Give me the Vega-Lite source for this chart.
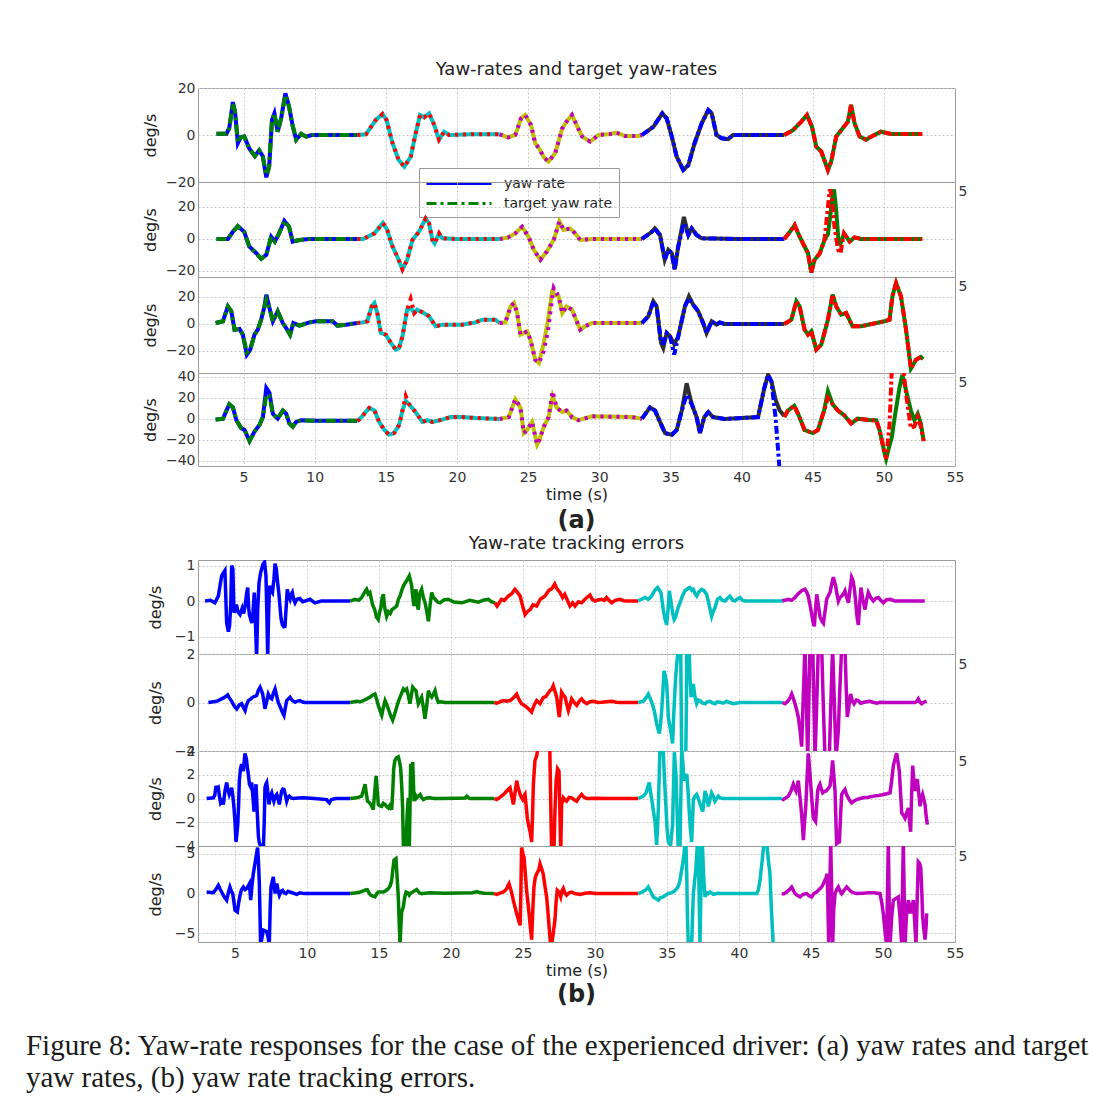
{
"$schema":"https://vega.github.io/schema/vega-lite/v6.json",
"background":"white",
"padding":{"left":25,"right":5,"top":60,"bottom":5},
"title":{"text":["Figure 8: Yaw-rate responses for the case of the experienced driver: (a) yaw rates and target","yaw rates, (b) yaw rate tracking errors."],"orient":"bottom","anchor":"start","frame":"bounds","dx":-116,"offset":24,"font":"Liberation Serif","fontSize":29,"fontWeight":"normal","color":"#1a1a1a","lineHeight":32},
"spacing":0,
"datasets":{
"a1":[
{"s":1,"t":3.1,"y":0.5,"g":0.5},{"s":1,"t":3.8,"y":0.5,"g":0.5},{"s":1,"t":4,"y":3,"g":3},{"s":1,"t":4.25,"y":14,"g":13.5},{"s":1,"t":4.4,"y":10,"g":10},{"s":1,"t":4.6,"y":-3.5,"g":-3},{"s":1,"t":4.8,"y":-1,"g":-1},{"s":1,"t":5.05,"y":-0.7,"g":-0.7},{"s":1,"t":5.4,"y":-5.7,"g":-5.7},{"s":1,"t":5.8,"y":-9,"g":-9},{"s":1,"t":6.1,"y":-6.5,"g":-6.5},{"s":1,"t":6.35,"y":-9,"g":-9},{"s":1,"t":6.6,"y":-18,"g":-17},{"s":1,"t":6.8,"y":-13.5,"g":-13.5},{"s":1,"t":7,"y":6.4,"g":6.4},{"s":1,"t":7.17,"y":9.2,"g":9.2},{"s":1,"t":7.4,"y":1.4,"g":1.4},{"s":1,"t":7.64,"y":7,"g":7},{"s":1,"t":7.94,"y":17.7,"g":17},{"s":1,"t":8.2,"y":12,"g":12},{"s":1,"t":8.45,"y":4,"g":4},{"s":1,"t":8.7,"y":-2,"g":-2},{"s":1,"t":9.05,"y":0.5,"g":0.5},{"s":1,"t":9.4,"y":-0.7,"g":-0.7},{"s":1,"t":9.8,"y":0,"g":0},{"s":1,"t":11,"y":0,"g":0},{"s":1,"t":13,"y":0,"g":0},
{"s":2,"t":13,"y":0,"g":0},{"s":2,"t":13.6,"y":0.3,"g":0.3},{"s":2,"t":14.3,"y":6.4,"g":6.4},{"s":2,"t":14.77,"y":8.9,"g":8.9},{"s":2,"t":15.05,"y":6.4,"g":6.4},{"s":2,"t":15.47,"y":-3.5,"g":-3.5},{"s":2,"t":15.9,"y":-10.6,"g":-10.6},{"s":2,"t":16.3,"y":-13.5,"g":-13.5},{"s":2,"t":16.75,"y":-9.2,"g":-9.2},{"s":2,"t":17.1,"y":0.7,"g":0.7},{"s":2,"t":17.4,"y":8.5,"g":8.5},{"s":2,"t":17.7,"y":7.5,"g":7.5},{"s":2,"t":18.04,"y":9.2,"g":9.2},{"s":2,"t":18.4,"y":4.3,"g":4.3},{"s":2,"t":18.74,"y":-2,"g":-2},{"s":2,"t":19.1,"y":1.4,"g":1.4},{"s":2,"t":19.44,"y":0,"g":0},{"s":2,"t":21,"y":0.3,"g":0.3},{"s":2,"t":23,"y":0.3,"g":0.3},
{"s":3,"t":23,"y":0.3,"g":0.3},{"s":3,"t":23.6,"y":-1,"g":-1},{"s":3,"t":24.1,"y":0,"g":0},{"s":3,"t":24.5,"y":7,"g":7},{"s":3,"t":24.8,"y":8.5,"g":8.5},{"s":3,"t":25.2,"y":4.3,"g":4.3},{"s":3,"t":25.5,"y":-3.5,"g":-3.5},{"s":3,"t":25.8,"y":-6,"g":-6},{"s":3,"t":26.1,"y":-9.5,"g":-9.5},{"s":3,"t":26.44,"y":-11.3,"g":-11.3},{"s":3,"t":26.9,"y":-7.8,"g":-7.8},{"s":3,"t":27.4,"y":2.8,"g":2.8},{"s":3,"t":27.7,"y":5.7,"g":5.7},{"s":3,"t":28.08,"y":8.5,"g":8.5},{"s":3,"t":28.4,"y":4.3,"g":4.3},{"s":3,"t":28.8,"y":-0.7,"g":-0.7},{"s":3,"t":29.36,"y":-2.8,"g":-2.8},{"s":3,"t":29.95,"y":0,"g":0},{"s":3,"t":30.76,"y":0.4,"g":0.4},{"s":3,"t":31.2,"y":1,"g":1},{"s":3,"t":31.8,"y":-0.4,"g":-0.4},{"s":3,"t":32.75,"y":-0.4,"g":-0.4},{"s":3,"t":33,"y":0,"g":0},
{"s":4,"t":33,"y":0,"g":0},{"s":4,"t":33.8,"y":3.5,"g":3.5},{"s":4,"t":34.43,"y":9.2,"g":9.2},{"s":4,"t":34.74,"y":7,"g":7},{"s":4,"t":35.1,"y":-0.7,"g":-0.7},{"s":4,"t":35.44,"y":-9.2,"g":-9.2},{"s":4,"t":35.9,"y":-14.9,"g":-14.9},{"s":4,"t":36.26,"y":-12.8,"g":-12.8},{"s":4,"t":36.7,"y":-3.5,"g":-3.5},{"s":4,"t":37.2,"y":5,"g":5},{"s":4,"t":37.66,"y":10.6,"g":10.6},{"s":4,"t":37.9,"y":9.2,"g":9.2},{"s":4,"t":38.24,"y":0,"g":0},{"s":4,"t":38.6,"y":-1.4,"g":-1.4},{"s":4,"t":39.06,"y":-1.8,"g":-1.8},{"s":4,"t":39.4,"y":0,"g":0},{"s":4,"t":41,"y":0,"g":0},{"s":4,"t":43,"y":0,"g":0},
{"s":5,"t":43,"y":0,"g":0},{"s":5,"t":43.6,"y":2,"g":2},{"s":5,"t":44.2,"y":5.7,"g":5.7},{"s":5,"t":44.6,"y":8.5,"g":8.5},{"s":5,"t":44.95,"y":3.5,"g":3.5},{"s":5,"t":45.25,"y":-5,"g":-5},{"s":5,"t":45.6,"y":-7,"g":-7},{"s":5,"t":46.07,"y":-14.9,"g":-14.9},{"s":5,"t":46.3,"y":-11.3,"g":-11.3},{"s":5,"t":46.65,"y":-0.7,"g":-0.7},{"s":5,"t":47.1,"y":2.8,"g":2.8},{"s":5,"t":47.47,"y":5.7,"g":5.7},{"s":5,"t":47.7,"y":12.8,"g":12.8},{"s":5,"t":47.94,"y":5,"g":5},{"s":5,"t":48.3,"y":-0.7,"g":-0.7},{"s":5,"t":48.75,"y":-2,"g":-2},{"s":5,"t":49.1,"y":-0.7,"g":-0.7},{"s":5,"t":49.8,"y":1.4,"g":1.4},{"s":5,"t":50.5,"y":0.4,"g":0.4},{"s":5,"t":52.7,"y":0.4,"g":0.4}
],
"a2":[
{"s":1,"t":3.1,"y":0,"g":0},{"s":1,"t":3.9,"y":0,"g":0},{"s":1,"t":4.25,"y":4.5,"g":4.5},{"s":1,"t":4.6,"y":8,"g":8},{"s":1,"t":5.05,"y":4.5,"g":4.5},{"s":1,"t":5.4,"y":-4.7,"g":-4.7},{"s":1,"t":5.9,"y":-8.9,"g":-8.9},{"s":1,"t":6.24,"y":-12.4,"g":-12.4},{"s":1,"t":6.6,"y":-9.9,"g":-9.9},{"s":1,"t":6.94,"y":1.4,"g":1.4},{"s":1,"t":7.2,"y":-1.6,"g":-1.6},{"s":1,"t":7.5,"y":3.5,"g":3.5},{"s":1,"t":7.87,"y":11.3,"g":11.3},{"s":1,"t":8.2,"y":7.6,"g":7.6},{"s":1,"t":8.45,"y":-1.6,"g":-1.6},{"s":1,"t":8.93,"y":-0.6,"g":-0.6},{"s":1,"t":9.6,"y":0,"g":0},{"s":1,"t":13,"y":0,"g":0},
{"s":2,"t":13,"y":0,"g":0},{"s":2,"t":13.4,"y":0,"g":0},{"s":2,"t":14.2,"y":3.5,"g":3.5},{"s":2,"t":14.8,"y":10,"g":10},{"s":2,"t":15.1,"y":5.6,"g":5.6},{"s":2,"t":15.47,"y":-4.7,"g":-4.7},{"s":2,"t":15.8,"y":-10.9,"g":-10.9},{"s":2,"t":16.17,"y":-19,"g":-19},{"s":2,"t":16.5,"y":-13,"g":-13},{"s":2,"t":16.87,"y":-0.6,"g":-0.6},{"s":2,"t":17.33,"y":4.5,"g":4.5},{"s":2,"t":17.8,"y":12.8,"g":12.8},{"s":2,"t":18.04,"y":9.7,"g":9.7},{"s":2,"t":18.27,"y":-0.6,"g":-0.6},{"s":2,"t":18.43,"y":-2.7,"g":-2.7},{"s":2,"t":18.74,"y":3.5,"g":3.5},{"s":2,"t":18.97,"y":0.4,"g":0.4},{"s":2,"t":20,"y":0,"g":0},{"s":2,"t":23,"y":0,"g":0},
{"s":3,"t":23,"y":0,"g":0},{"s":3,"t":23.6,"y":1,"g":1},{"s":3,"t":24.1,"y":3.5,"g":3.5},{"s":3,"t":24.57,"y":7.6,"g":7.6},{"s":3,"t":25.03,"y":1.4,"g":1.4},{"s":3,"t":25.4,"y":-6.8,"g":-6.8},{"s":3,"t":25.86,"y":-13,"g":-13},{"s":3,"t":26.3,"y":-8,"g":-8},{"s":3,"t":26.8,"y":-0.6,"g":-0.6},{"s":3,"t":27.2,"y":11,"g":11},{"s":3,"t":27.5,"y":5.6,"g":5.6},{"s":3,"t":27.96,"y":6.6,"g":6.6},{"s":3,"t":28.3,"y":3.5,"g":3.5},{"s":3,"t":28.66,"y":-0.6,"g":-0.6},{"s":3,"t":29.5,"y":0,"g":0},{"s":3,"t":33,"y":0,"g":0},
{"s":4,"t":33,"y":0,"g":0},{"s":4,"t":33.7,"y":4.5,"g":4.5},{"s":4,"t":33.9,"y":6.6,"g":6.6},{"s":4,"t":34.27,"y":2.5,"g":2.5},{"s":4,"t":34.6,"y":-13,"g":-13},{"s":4,"t":34.85,"y":-6.8,"g":-6.8},{"s":4,"t":35.1,"y":-8.9,"g":-8.9},{"s":4,"t":35.3,"y":-19,"g":-19},{"s":4,"t":35.55,"y":-4.7,"g":-4.7},{"s":4,"t":35.95,"y":13.8,"g":9.7},{"s":4,"t":36.26,"y":2.5,"g":2.5},{"s":4,"t":36.5,"y":6.6,"g":6.6},{"s":4,"t":36.84,"y":2.5,"g":2.5},{"s":4,"t":37.2,"y":0.4,"g":0.4},{"s":4,"t":39.76,"y":0,"g":0},{"s":4,"t":43,"y":0,"g":0},
{"s":5,"t":43,"y":0,"g":0},{"s":5,"t":43.4,"y":4.5,"g":4.5},{"s":5,"t":43.73,"y":8.7,"g":8.7},{"s":5,"t":44.08,"y":1.4,"g":1.4},{"s":5,"t":44.43,"y":-4.7,"g":-4.7},{"s":5,"t":44.67,"y":-8.9,"g":-8.9},{"s":5,"t":44.9,"y":-21,"g":-21},{"s":5,"t":45.13,"y":-13,"g":-13},{"s":5,"t":45.5,"y":-8.9,"g":-8.9},{"s":5,"t":45.83,"y":-0.6,"g":-0.6},{"s":5,"t":46.07,"y":3,"g":20},{"s":5,"t":46.2,"y":12,"g":31},{"s":5,"t":46.35,"y":24,"g":27},{"s":5,"t":46.5,"y":31,"g":10},{"s":5,"t":46.65,"y":18,"g":0},{"s":5,"t":46.8,"y":0,"g":-7},{"s":5,"t":46.95,"y":-3,"g":-9},{"s":5,"t":47.2,"y":3.5,"g":3.5},{"s":5,"t":47.6,"y":-1.6,"g":-1.6},{"s":5,"t":47.94,"y":1,"g":1},{"s":5,"t":48.4,"y":0,"g":0},{"s":5,"t":52.7,"y":0,"g":0}
],
"a3":[
{"s":1,"t":3.04,"y":0.7,"g":0.7},{"s":1,"t":3.55,"y":2,"g":2},{"s":1,"t":3.9,"y":13,"g":13},{"s":1,"t":4.14,"y":9.4,"g":9.4},{"s":1,"t":4.37,"y":-4.2,"g":-4.2},{"s":1,"t":4.72,"y":-3.7,"g":-3.7},{"s":1,"t":4.95,"y":-7.9,"g":-7.9},{"s":1,"t":5.23,"y":-22.7,"g":-21},{"s":1,"t":5.47,"y":-19,"g":-19},{"s":1,"t":5.77,"y":-7.9,"g":-7.9},{"s":1,"t":6,"y":-4.2,"g":-4.2},{"s":1,"t":6.24,"y":3.2,"g":3.2},{"s":1,"t":6.47,"y":13,"g":13},{"s":1,"t":6.6,"y":21.7,"g":18},{"s":1,"t":6.82,"y":11.9,"g":11.9},{"s":1,"t":7.06,"y":2,"g":2},{"s":1,"t":7.4,"y":9.4,"g":9.4},{"s":1,"t":7.76,"y":0.7,"g":0.7},{"s":1,"t":8.04,"y":-3.7,"g":-3.7},{"s":1,"t":8.27,"y":-7.9,"g":-7.9},{"s":1,"t":8.5,"y":0.7,"g":0.7},{"s":1,"t":8.93,"y":-1.2,"g":-1.2},{"s":1,"t":9.63,"y":1.2,"g":1.2},{"s":1,"t":10.1,"y":2,"g":2},{"s":1,"t":11.26,"y":2,"g":2},{"s":1,"t":11.6,"y":-1.2,"g":-1.2},{"s":1,"t":12.2,"y":-0.5,"g":-0.5},{"s":1,"t":13,"y":0.7,"g":0.7},
{"s":2,"t":13,"y":0.7,"g":0.7},{"s":2,"t":13.37,"y":1.2,"g":1.2},{"s":2,"t":13.7,"y":2,"g":2},{"s":2,"t":14,"y":13,"g":13},{"s":2,"t":14.2,"y":15.5,"g":15.5},{"s":2,"t":14.4,"y":8.1,"g":8.1},{"s":2,"t":14.65,"y":-6.7,"g":-6.7},{"s":2,"t":15,"y":-7.9,"g":-7.9},{"s":2,"t":15.35,"y":-14,"g":-14},{"s":2,"t":15.7,"y":-19,"g":-19},{"s":2,"t":15.93,"y":-17.8,"g":-17.8},{"s":2,"t":16.17,"y":-9.1,"g":-9.1},{"s":2,"t":16.5,"y":10.6,"g":10.6},{"s":2,"t":16.75,"y":11.9,"g":18.5},{"s":2,"t":17,"y":8.1,"g":8.1},{"s":2,"t":17.2,"y":10.6,"g":10.6},{"s":2,"t":17.57,"y":8.6,"g":8.6},{"s":2,"t":18.04,"y":5.7,"g":5.7},{"s":2,"t":18.5,"y":-1.7,"g":-1.7},{"s":2,"t":18.97,"y":-0.5,"g":-0.5},{"s":2,"t":20.37,"y":-0.5,"g":-0.5},{"s":2,"t":21.3,"y":1.2,"g":1.2},{"s":2,"t":21.78,"y":3.2,"g":3.2},{"s":2,"t":22.7,"y":3.2,"g":3.2},{"s":2,"t":23,"y":0.7,"g":0.7},
{"s":3,"t":23,"y":0.7,"g":0.7},{"s":3,"t":23.4,"y":1.2,"g":1.2},{"s":3,"t":23.77,"y":13,"g":13},{"s":3,"t":24,"y":15.5,"g":15.5},{"s":3,"t":24.23,"y":8.1,"g":8.1},{"s":3,"t":24.46,"y":-7.9,"g":-7.9},{"s":3,"t":24.93,"y":-5.4,"g":-5.4},{"s":3,"t":25.16,"y":-11.6,"g":-11.6},{"s":3,"t":25.5,"y":-26.4,"g":-26.4},{"s":3,"t":25.76,"y":-28.9,"g":-28.9},{"s":3,"t":26.1,"y":-14,"g":-20},{"s":3,"t":26.4,"y":3,"g":-5},{"s":3,"t":26.7,"y":25.4,"g":20},{"s":3,"t":26.8,"y":22,"g":26.7},{"s":3,"t":27.14,"y":20.5,"g":20.5},{"s":3,"t":27.4,"y":8.1,"g":8.1},{"s":3,"t":27.7,"y":13,"g":13},{"s":3,"t":28.08,"y":10.6,"g":10.6},{"s":3,"t":28.66,"y":-4.2,"g":-4.2},{"s":3,"t":29,"y":-1.7,"g":-1.7},{"s":3,"t":29.5,"y":0.7,"g":0.7},{"s":3,"t":33,"y":0.7,"g":0.7},
{"s":4,"t":33,"y":0.7,"g":0.7},{"s":4,"t":33.45,"y":5.7,"g":5.7},{"s":4,"t":33.8,"y":16.8,"g":16.8},{"s":4,"t":34.03,"y":13,"g":13},{"s":4,"t":34.34,"y":-14,"g":-14},{"s":4,"t":34.5,"y":-17.8,"g":-14},{"s":4,"t":34.74,"y":-6.7,"g":-6.7},{"s":4,"t":34.97,"y":-9.1,"g":-9.1},{"s":4,"t":35.27,"y":-15,"g":-22.7},{"s":4,"t":35.55,"y":-9.1,"g":-9.1},{"s":4,"t":36.02,"y":13,"g":13},{"s":4,"t":36.3,"y":20.5,"g":19},{"s":4,"t":36.6,"y":14.3,"g":14.3},{"s":4,"t":36.95,"y":9.4,"g":9.4},{"s":4,"t":37.3,"y":0.7,"g":0.7},{"s":4,"t":37.54,"y":-6.7,"g":-6.7},{"s":4,"t":37.9,"y":2,"g":2},{"s":4,"t":38.24,"y":-0.5,"g":-0.5},{"s":4,"t":38.47,"y":1.2,"g":1.2},{"s":4,"t":38.8,"y":0,"g":0},{"s":4,"t":43,"y":0,"g":0},
{"s":5,"t":43,"y":0,"g":0},{"s":5,"t":43.5,"y":3.2,"g":3.2},{"s":5,"t":43.85,"y":16.8,"g":16.8},{"s":5,"t":44.08,"y":13,"g":13},{"s":5,"t":44.43,"y":-4.2,"g":-4.2},{"s":5,"t":44.67,"y":-7.9,"g":-7.9},{"s":5,"t":44.9,"y":-5.4,"g":-5.4},{"s":5,"t":45.25,"y":-19,"g":-19},{"s":5,"t":45.6,"y":-15.3,"g":-15.3},{"s":5,"t":46.07,"y":3.2,"g":3.2},{"s":5,"t":46.4,"y":21.7,"g":21.7},{"s":5,"t":46.65,"y":13,"g":13},{"s":5,"t":47,"y":6.9,"g":6.9},{"s":5,"t":47.35,"y":8.1,"g":8.1},{"s":5,"t":47.8,"y":-1.7,"g":-1.7},{"s":5,"t":48.4,"y":-1.7,"g":-1.7},{"s":5,"t":50.04,"y":2,"g":2},{"s":5,"t":50.4,"y":3.2,"g":3.2},{"s":5,"t":50.6,"y":20.5,"g":20.5},{"s":5,"t":50.86,"y":30.4,"g":30.4},{"s":5,"t":51.2,"y":20.5,"g":20.5},{"s":5,"t":51.56,"y":-4.2,"g":-4.2},{"s":5,"t":51.9,"y":-33,"g":-33},{"s":5,"t":52.26,"y":-26.4,"g":-26.4},{"s":5,"t":52.6,"y":-24.4,"g":-24.4},{"s":5,"t":52.75,"y":-26,"g":-26}
],
"a4":[
{"s":1,"t":3.04,"y":-0.6,"g":-0.6},{"s":1,"t":3.55,"y":0,"g":0},{"s":1,"t":3.8,"y":8,"g":8},{"s":1,"t":4,"y":14,"g":14},{"s":1,"t":4.25,"y":11,"g":11},{"s":1,"t":4.5,"y":-1.2,"g":-1.2},{"s":1,"t":4.84,"y":-8.9,"g":-8.9},{"s":1,"t":5.07,"y":-10.5,"g":-10.5},{"s":1,"t":5.42,"y":-21,"g":-21},{"s":1,"t":5.77,"y":-12,"g":-12},{"s":1,"t":6.12,"y":-5.8,"g":-5.8},{"s":1,"t":6.36,"y":1.8,"g":1.8},{"s":1,"t":6.6,"y":29.5,"g":23},{"s":1,"t":6.82,"y":25,"g":22},{"s":1,"t":7.06,"y":4.9,"g":4.9},{"s":1,"t":7.4,"y":0.3,"g":0.3},{"s":1,"t":7.76,"y":8,"g":8},{"s":1,"t":8,"y":4.9,"g":4.9},{"s":1,"t":8.22,"y":-4.3,"g":-4.3},{"s":1,"t":8.46,"y":-7.4,"g":-7.4},{"s":1,"t":8.7,"y":-2.8,"g":-2.8},{"s":1,"t":9.04,"y":-1.2,"g":-1.2},{"s":1,"t":10.1,"y":-1.8,"g":-1.8},{"s":1,"t":13,"y":-1.8,"g":-1.8},
{"s":2,"t":13,"y":-1.8,"g":-1.8},{"s":2,"t":13.13,"y":-0.6,"g":-0.6},{"s":2,"t":13.48,"y":4.9,"g":4.9},{"s":2,"t":13.83,"y":10.5,"g":10.5},{"s":2,"t":14.2,"y":8,"g":8},{"s":2,"t":14.53,"y":-2.8,"g":-2.8},{"s":2,"t":14.9,"y":-10.5,"g":-10.5},{"s":2,"t":15.23,"y":-15,"g":-15},{"s":2,"t":15.58,"y":-13.5,"g":-13.5},{"s":2,"t":15.93,"y":-5.8,"g":-5.8},{"s":2,"t":16.17,"y":8,"g":8},{"s":2,"t":16.4,"y":17,"g":21.8},{"s":2,"t":16.64,"y":14,"g":14},{"s":2,"t":17,"y":8,"g":8},{"s":2,"t":17.34,"y":1.8,"g":1.8},{"s":2,"t":17.57,"y":-2.8,"g":-2.8},{"s":2,"t":17.92,"y":-1.2,"g":-1.2},{"s":2,"t":18.27,"y":-2.8,"g":-2.8},{"s":2,"t":18.97,"y":-0.6,"g":-0.6},{"s":2,"t":19.55,"y":1.8,"g":1.8},{"s":2,"t":20.37,"y":1.8,"g":1.8},{"s":2,"t":21.3,"y":0.9,"g":0.9},{"s":2,"t":23,"y":0,"g":0},
{"s":3,"t":23,"y":0,"g":0},{"s":3,"t":23.64,"y":1.8,"g":1.8},{"s":3,"t":24.1,"y":18.8,"g":18.8},{"s":3,"t":24.46,"y":11,"g":11},{"s":3,"t":24.7,"y":-13.5,"g":-13.5},{"s":3,"t":24.93,"y":-10.5,"g":-10.5},{"s":3,"t":25.28,"y":-2.8,"g":-2.8},{"s":3,"t":25.63,"y":-24.3,"g":-24.3},{"s":3,"t":25.8,"y":-19.7,"g":-19.7},{"s":3,"t":26.1,"y":-7.4,"g":-7.4},{"s":3,"t":26.44,"y":1.8,"g":1.8},{"s":3,"t":26.72,"y":21.8,"g":26.5},{"s":3,"t":27,"y":11,"g":11},{"s":3,"t":27.4,"y":6.5,"g":6.5},{"s":3,"t":27.7,"y":8,"g":8},{"s":3,"t":28.08,"y":1.8,"g":1.8},{"s":3,"t":28.54,"y":-1.2,"g":-1.2},{"s":3,"t":29.5,"y":2.5,"g":2.5},{"s":3,"t":32.3,"y":1.8,"g":1.8},{"s":3,"t":33,"y":0.3,"g":0.3},
{"s":4,"t":33,"y":0.3,"g":0.3},{"s":4,"t":33.57,"y":11,"g":11},{"s":4,"t":33.92,"y":8,"g":8},{"s":4,"t":34.27,"y":-2.8,"g":-2.8},{"s":4,"t":34.62,"y":-13.5,"g":-13.5},{"s":4,"t":35.1,"y":-15,"g":-15},{"s":4,"t":35.44,"y":-10.5,"g":-10.5},{"s":4,"t":35.8,"y":8,"g":8},{"s":4,"t":36.14,"y":34,"g":23},{"s":4,"t":36.5,"y":14,"g":14},{"s":4,"t":36.84,"y":1.8,"g":1.8},{"s":4,"t":37.07,"y":-13.5,"g":-13.5},{"s":4,"t":37.38,"y":1.8,"g":1.8},{"s":4,"t":37.66,"y":6.5,"g":6.5},{"s":4,"t":38,"y":1.8,"g":1.8},{"s":4,"t":38.8,"y":0,"g":0},{"s":4,"t":41.16,"y":1.8,"g":1.8},{"s":4,"t":41.6,"y":29.5,"g":29.5},{"s":4,"t":41.86,"y":42,"g":42},{"s":4,"t":42.1,"y":35.7,"g":35.7},{"s":4,"t":42.4,"y":18,"g":0},{"s":4,"t":42.68,"y":8,"g":-50},{"s":4,"t":43,"y":3,"g":-50},
{"s":5,"t":43,"y":1.8,"g":1.8},{"s":5,"t":43.26,"y":8,"g":8},{"s":5,"t":43.7,"y":12.6,"g":12.6},{"s":5,"t":43.97,"y":4.9,"g":4.9},{"s":5,"t":44.43,"y":-10.5,"g":-10.5},{"s":5,"t":45,"y":-13.5,"g":-13.5},{"s":5,"t":45.37,"y":-10.5,"g":-10.5},{"s":5,"t":45.8,"y":8,"g":8},{"s":5,"t":46.07,"y":26.5,"g":20},{"s":5,"t":46.4,"y":14,"g":14},{"s":5,"t":46.77,"y":8,"g":8},{"s":5,"t":47.23,"y":3.4,"g":3.4},{"s":5,"t":47.7,"y":-4.3,"g":-4.3},{"s":5,"t":48.17,"y":0.3,"g":0.3},{"s":5,"t":49.1,"y":-1.2,"g":-1.2},{"s":5,"t":49.46,"y":-1.2,"g":-1.2},{"s":5,"t":49.7,"y":-10.5,"g":-10.5},{"s":5,"t":50.04,"y":-32,"g":-32},{"s":5,"t":50.16,"y":-38,"g":-38},{"s":5,"t":50.4,"y":-25,"g":-5},{"s":5,"t":50.55,"y":-18,"g":45},{"s":5,"t":50.8,"y":5,"g":60},{"s":5,"t":51.1,"y":30,"g":60},{"s":5,"t":51.3,"y":42,"g":55},{"s":5,"t":51.6,"y":25,"g":20},{"s":5,"t":51.9,"y":8,"g":-9},{"s":5,"t":52.15,"y":-1.2,"g":-7},{"s":5,"t":52.38,"y":4.9,"g":1.8},{"s":5,"t":52.6,"y":-4.3,"g":-7.4},{"s":5,"t":52.8,"y":-21,"g":-21}
],
"b1":[
{"s":1,"t":2.92,"e":0},{"s":1,"t":3.3,"e":0.02},{"s":1,"t":3.6,"e":-0.05},{"s":1,"t":3.84,"e":0.14},{"s":1,"t":4.07,"e":0.7},{"s":1,"t":4.2,"e":0.8},{"s":1,"t":4.3,"e":0.86},{"s":1,"t":4.42,"e":-0.62},{"s":1,"t":4.54,"e":-0.86},{"s":1,"t":4.62,"e":-0.7},{"s":1,"t":4.7,"e":-0.14},{"s":1,"t":4.77,"e":1.0},{"s":1,"t":4.85,"e":0.9},{"s":1,"t":4.93,"e":-0.33},{"s":1,"t":5.1,"e":-0.1},{"s":1,"t":5.2,"e":-0.3},{"s":1,"t":5.35,"e":-0.38},{"s":1,"t":5.5,"e":-0.2},{"s":1,"t":5.6,"e":-0.35},{"s":1,"t":5.7,"e":-0.14},{"s":1,"t":5.8,"e":0.2},{"s":1,"t":5.88,"e":0.38},{"s":1,"t":5.95,"e":-0.2},{"s":1,"t":6,"e":-0.38},{"s":1,"t":6.16,"e":-0.62},{"s":1,"t":6.25,"e":-0.3},{"s":1,"t":6.34,"e":0.24},{"s":1,"t":6.42,"e":-0.6},{"s":1,"t":6.5,"e":-1.6},{"s":1,"t":6.58,"e":-0.2},{"s":1,"t":6.67,"e":0.52},{"s":1,"t":6.78,"e":0.8},{"s":1,"t":6.85,"e":0.9},{"s":1,"t":6.95,"e":1.05},{"s":1,"t":7.05,"e":1.1},{"s":1,"t":7.15,"e":0.7},{"s":1,"t":7.22,"e":-0.5},{"s":1,"t":7.27,"e":-1.6},{"s":1,"t":7.33,"e":-0.4},{"s":1,"t":7.4,"e":0.43},{"s":1,"t":7.5,"e":0.3},{"s":1,"t":7.6,"e":0.24},{"s":1,"t":7.7,"e":0.6},{"s":1,"t":7.78,"e":1.05},{"s":1,"t":7.87,"e":0.9},{"s":1,"t":7.96,"e":0.52},{"s":1,"t":8.05,"e":0.2},{"s":1,"t":8.12,"e":-0.14},{"s":1,"t":8.2,"e":-0.5},{"s":1,"t":8.29,"e":-0.67},{"s":1,"t":8.38,"e":-0.72},{"s":1,"t":8.47,"e":-0.71},{"s":1,"t":8.55,"e":-0.2},{"s":1,"t":8.63,"e":0.33},{"s":1,"t":8.72,"e":0.15},{"s":1,"t":8.82,"e":0.05},{"s":1,"t":8.9,"e":0.18},{"s":1,"t":8.98,"e":0.24},{"s":1,"t":9.07,"e":0.05},{"s":1,"t":9.17,"e":-0.05},{"s":1,"t":9.3,"e":0.05},{"s":1,"t":9.5,"e":0.07},{"s":1,"t":9.7,"e":-0.02},{"s":1,"t":9.86,"e":0},{"s":1,"t":10.2,"e":0.05},{"s":1,"t":10.55,"e":-0.05},{"s":1,"t":11,"e":0},{"s":1,"t":13,"e":0},
{"s":2,"t":13,"e":0},{"s":2,"t":13.33,"e":0.05},{"s":2,"t":13.6,"e":0.02},{"s":2,"t":13.8,"e":0.1},{"s":2,"t":14,"e":0.25},{"s":2,"t":14.14,"e":0.33},{"s":2,"t":14.25,"e":0.2},{"s":2,"t":14.37,"e":0.24},{"s":2,"t":14.55,"e":-0.1},{"s":2,"t":14.7,"e":-0.24},{"s":2,"t":14.82,"e":-0.45},{"s":2,"t":14.95,"e":-0.52},{"s":2,"t":15.05,"e":-0.3},{"s":2,"t":15.13,"e":-0.19},{"s":2,"t":15.22,"e":0.1},{"s":2,"t":15.3,"e":0.19},{"s":2,"t":15.4,"e":-0.2},{"s":2,"t":15.53,"e":-0.43},{"s":2,"t":15.65,"e":-0.3},{"s":2,"t":15.78,"e":-0.35},{"s":2,"t":15.9,"e":-0.24},{"s":2,"t":16.05,"e":-0.2},{"s":2,"t":16.23,"e":-0.14},{"s":2,"t":16.35,"e":0.05},{"s":2,"t":16.46,"e":0.14},{"s":2,"t":16.58,"e":0.3},{"s":2,"t":16.7,"e":0.43},{"s":2,"t":16.8,"e":0.5},{"s":2,"t":16.92,"e":0.57},{"s":2,"t":17.02,"e":0.65},{"s":2,"t":17.1,"e":0.71},{"s":2,"t":17.2,"e":0.55},{"s":2,"t":17.27,"e":0.43},{"s":2,"t":17.35,"e":0.1},{"s":2,"t":17.43,"e":-0.14},{"s":2,"t":17.5,"e":0.2},{"s":2,"t":17.57,"e":0.33},{"s":2,"t":17.65,"e":-0.1},{"s":2,"t":17.73,"e":-0.24},{"s":2,"t":17.82,"e":0.2},{"s":2,"t":17.96,"e":0.33},{"s":2,"t":18.08,"e":0.1},{"s":2,"t":18.2,"e":-0.05},{"s":2,"t":18.32,"e":-0.3},{"s":2,"t":18.43,"e":-0.57},{"s":2,"t":18.55,"e":-0.1},{"s":2,"t":18.66,"e":0.24},{"s":2,"t":18.78,"e":0.1},{"s":2,"t":18.9,"e":0.05},{"s":2,"t":19.05,"e":-0.02},{"s":2,"t":19.24,"e":-0.05},{"s":2,"t":19.5,"e":0.03},{"s":2,"t":19.8,"e":0.05},{"s":2,"t":20.2,"e":-0.03},{"s":2,"t":20.74,"e":-0.05},{"s":2,"t":21.3,"e":0.02},{"s":2,"t":21.9,"e":-0.03},{"s":2,"t":22.3,"e":0.03},{"s":2,"t":22.6,"e":0.05},{"s":2,"t":22.8,"e":-0.02},{"s":2,"t":23.05,"e":-0.05},
{"s":3,"t":23.05,"e":-0.05},{"s":3,"t":23.2,"e":-0.14},{"s":3,"t":23.35,"e":-0.05},{"s":3,"t":23.5,"e":0.05},{"s":3,"t":23.7,"e":0.02},{"s":3,"t":23.98,"e":0.14},{"s":3,"t":24.2,"e":0.2},{"s":3,"t":24.44,"e":0.33},{"s":3,"t":24.6,"e":0.25},{"s":3,"t":24.8,"e":0.14},{"s":3,"t":24.95,"e":-0.1},{"s":3,"t":25.14,"e":-0.38},{"s":3,"t":25.3,"e":-0.3},{"s":3,"t":25.5,"e":-0.24},{"s":3,"t":25.7,"e":-0.1},{"s":3,"t":25.95,"e":-0.14},{"s":3,"t":26.2,"e":0.05},{"s":3,"t":26.53,"e":0.14},{"s":3,"t":26.8,"e":0.3},{"s":3,"t":27,"e":0.35},{"s":3,"t":27.2,"e":0.48},{"s":3,"t":27.35,"e":0.35},{"s":3,"t":27.57,"e":0.24},{"s":3,"t":27.75,"e":0.1},{"s":3,"t":27.9,"e":0.19},{"s":3,"t":28.05,"e":0.05},{"s":3,"t":28.26,"e":-0.14},{"s":3,"t":28.45,"e":-0.05},{"s":3,"t":28.61,"e":-0.14},{"s":3,"t":28.85,"e":-0.02},{"s":3,"t":29.07,"e":-0.05},{"s":3,"t":29.3,"e":0.05},{"s":3,"t":29.65,"e":0.17},{"s":3,"t":29.8,"e":0.05},{"s":3,"t":30,"e":0},{"s":3,"t":30.2,"e":0.03},{"s":3,"t":30.46,"e":0.05},{"s":3,"t":30.65,"e":0.02},{"s":3,"t":30.8,"e":0.1},{"s":3,"t":30.95,"e":0.03},{"s":3,"t":31.16,"e":-0.05},{"s":3,"t":31.4,"e":0.02},{"s":3,"t":31.74,"e":0.05},{"s":3,"t":32,"e":0.01},{"s":3,"t":32.3,"e":0},{"s":3,"t":33,"e":0},
{"s":4,"t":33,"e":0},{"s":4,"t":33.47,"e":0.1},{"s":4,"t":33.7,"e":0.05},{"s":4,"t":33.93,"e":0.14},{"s":4,"t":34.15,"e":0.3},{"s":4,"t":34.35,"e":0.38},{"s":4,"t":34.58,"e":0.24},{"s":4,"t":34.66,"e":0},{"s":4,"t":34.74,"e":-0.24},{"s":4,"t":34.86,"e":-0.5},{"s":4,"t":34.98,"e":-0.67},{"s":4,"t":35.08,"e":-0.2},{"s":4,"t":35.16,"e":0.29},{"s":4,"t":35.25,"e":0.05},{"s":4,"t":35.32,"e":-0.14},{"s":4,"t":35.42,"e":-0.4},{"s":4,"t":35.5,"e":-0.52},{"s":4,"t":35.6,"e":-0.45},{"s":4,"t":35.67,"e":-0.33},{"s":4,"t":35.8,"e":-0.15},{"s":4,"t":35.9,"e":-0.05},{"s":4,"t":36.08,"e":0.15},{"s":4,"t":36.25,"e":0.29},{"s":4,"t":36.45,"e":0.35},{"s":4,"t":36.6,"e":0.38},{"s":4,"t":36.72,"e":0.3},{"s":4,"t":36.83,"e":0.33},{"s":4,"t":36.95,"e":0.2},{"s":4,"t":37.06,"e":0.14},{"s":4,"t":37.2,"e":0.25},{"s":4,"t":37.4,"e":0.33},{"s":4,"t":37.55,"e":0.3},{"s":4,"t":37.75,"e":0.19},{"s":4,"t":37.92,"e":-0.1},{"s":4,"t":38.1,"e":-0.43},{"s":4,"t":38.2,"e":-0.3},{"s":4,"t":38.33,"e":-0.19},{"s":4,"t":38.5,"e":0.05},{"s":4,"t":38.68,"e":0.1},{"s":4,"t":38.85,"e":0.02},{"s":4,"t":39.03,"e":0},{"s":4,"t":39.2,"e":0.08},{"s":4,"t":39.37,"e":0.14},{"s":4,"t":39.55,"e":0.03},{"s":4,"t":39.72,"e":0},{"s":4,"t":39.9,"e":0.06},{"s":4,"t":40.07,"e":0.1},{"s":4,"t":40.25,"e":0.02},{"s":4,"t":40.42,"e":0},{"s":4,"t":43,"e":0},
{"s":5,"t":43,"e":0},{"s":5,"t":43.42,"e":0.05},{"s":5,"t":43.65,"e":0.02},{"s":5,"t":43.89,"e":0.1},{"s":5,"t":44.1,"e":0.2},{"s":5,"t":44.35,"e":0.29},{"s":5,"t":44.58,"e":0.33},{"s":5,"t":44.7,"e":0.25},{"s":5,"t":44.81,"e":0.14},{"s":5,"t":44.93,"e":-0.1},{"s":5,"t":45.05,"e":-0.38},{"s":5,"t":45.15,"e":-0.6},{"s":5,"t":45.23,"e":-0.71},{"s":5,"t":45.32,"e":-0.2},{"s":5,"t":45.4,"e":0.19},{"s":5,"t":45.5,"e":-0.1},{"s":5,"t":45.62,"e":-0.43},{"s":5,"t":45.74,"e":-0.55},{"s":5,"t":45.86,"e":-0.62},{"s":5,"t":45.97,"e":-0.3},{"s":5,"t":46.09,"e":0.05},{"s":5,"t":46.2,"e":0.15},{"s":5,"t":46.32,"e":0.24},{"s":5,"t":46.45,"e":0.5},{"s":5,"t":46.55,"e":0.67},{"s":5,"t":46.63,"e":0.55},{"s":5,"t":46.71,"e":0.43},{"s":5,"t":46.8,"e":0.2},{"s":5,"t":46.9,"e":0},{"s":5,"t":47,"e":0.1},{"s":5,"t":47.13,"e":0.14},{"s":5,"t":47.25,"e":0.2},{"s":5,"t":47.36,"e":0.29},{"s":5,"t":47.48,"e":0.1},{"s":5,"t":47.6,"e":-0.05},{"s":5,"t":47.7,"e":0.3},{"s":5,"t":47.82,"e":0.67},{"s":5,"t":47.9,"e":0.6},{"s":5,"t":48,"e":0.38},{"s":5,"t":48.1,"e":0},{"s":5,"t":48.17,"e":-0.33},{"s":5,"t":48.23,"e":-0.55},{"s":5,"t":48.29,"e":-0.67},{"s":5,"t":48.38,"e":-0.1},{"s":5,"t":48.47,"e":0.38},{"s":5,"t":48.6,"e":0.05},{"s":5,"t":48.75,"e":-0.24},{"s":5,"t":48.87,"e":0.05},{"s":5,"t":48.98,"e":0.24},{"s":5,"t":49.15,"e":0.1},{"s":5,"t":49.33,"e":0},{"s":5,"t":49.5,"e":0.08},{"s":5,"t":49.68,"e":0.1},{"s":5,"t":49.85,"e":0.02},{"s":5,"t":50.02,"e":-0.05},{"s":5,"t":50.25,"e":0.04},{"s":5,"t":50.5,"e":0.05},{"s":5,"t":50.83,"e":0},{"s":5,"t":52.9,"e":0}
],
"b2":[
{"s":1,"t":3.15,"e":0},{"s":1,"t":3.5,"e":0.03},{"s":1,"t":3.73,"e":0.05},{"s":1,"t":3.9,"e":0.1},{"s":1,"t":4.07,"e":0.15},{"s":1,"t":4.3,"e":0.22},{"s":1,"t":4.49,"e":0.31},{"s":1,"t":4.6,"e":0.2},{"s":1,"t":4.77,"e":0.05},{"s":1,"t":4.95,"e":-0.15},{"s":1,"t":5.12,"e":-0.26},{"s":1,"t":5.3,"e":-0.1},{"s":1,"t":5.46,"e":-0.05},{"s":1,"t":5.58,"e":-0.2},{"s":1,"t":5.7,"e":-0.33},{"s":1,"t":5.8,"e":-0.1},{"s":1,"t":5.93,"e":0.08},{"s":1,"t":6.1,"e":0.15},{"s":1,"t":6.23,"e":0.22},{"s":1,"t":6.37,"e":0.25},{"s":1,"t":6.5,"e":0.29},{"s":1,"t":6.62,"e":0.5},{"s":1,"t":6.74,"e":0.63},{"s":1,"t":6.83,"e":0.5},{"s":1,"t":6.92,"e":0.35},{"s":1,"t":7,"e":0.05},{"s":1,"t":7.08,"e":-0.26},{"s":1,"t":7.18,"e":0},{"s":1,"t":7.31,"e":0.35},{"s":1,"t":7.43,"e":0.2},{"s":1,"t":7.55,"e":0.15},{"s":1,"t":7.67,"e":0.4},{"s":1,"t":7.78,"e":0.56},{"s":1,"t":7.88,"e":0.3},{"s":1,"t":8,"e":0.01},{"s":1,"t":8.12,"e":-0.15},{"s":1,"t":8.24,"e":-0.33},{"s":1,"t":8.33,"e":-0.45},{"s":1,"t":8.4,"e":-0.53},{"s":1,"t":8.5,"e":-0.2},{"s":1,"t":8.59,"e":0.08},{"s":1,"t":8.7,"e":0.15},{"s":1,"t":8.82,"e":0.22},{"s":1,"t":8.95,"e":0.1},{"s":1,"t":9.17,"e":0.01},{"s":1,"t":9.3,"e":0.05},{"s":1,"t":9.5,"e":0.08},{"s":1,"t":9.7,"e":0.02},{"s":1,"t":9.86,"e":0},{"s":1,"t":13,"e":0},
{"s":2,"t":13,"e":0},{"s":2,"t":13.45,"e":0.05},{"s":2,"t":13.7,"e":0.03},{"s":2,"t":13.9,"e":0.08},{"s":2,"t":14.15,"e":0.15},{"s":2,"t":14.37,"e":0.22},{"s":2,"t":14.55,"e":0.3},{"s":2,"t":14.72,"e":0.35},{"s":2,"t":14.85,"e":0.1},{"s":2,"t":14.95,"e":-0.12},{"s":2,"t":15.08,"e":-0.35},{"s":2,"t":15.19,"e":-0.53},{"s":2,"t":15.3,"e":-0.2},{"s":2,"t":15.42,"e":0.08},{"s":2,"t":15.55,"e":-0.1},{"s":2,"t":15.72,"e":-0.39},{"s":2,"t":15.85,"e":-0.6},{"s":2,"t":15.95,"e":-0.73},{"s":2,"t":16.1,"e":-0.45},{"s":2,"t":16.23,"e":-0.19},{"s":2,"t":16.35,"e":0.05},{"s":2,"t":16.46,"e":0.22},{"s":2,"t":16.58,"e":0.4},{"s":2,"t":16.69,"e":0.56},{"s":2,"t":16.8,"e":0.5},{"s":2,"t":16.92,"e":0.56},{"s":2,"t":17.03,"e":0.3},{"s":2,"t":17.15,"e":-0.05},{"s":2,"t":17.25,"e":0.3},{"s":2,"t":17.34,"e":0.63},{"s":2,"t":17.45,"e":0.55},{"s":2,"t":17.57,"e":0.49},{"s":2,"t":17.65,"e":0.2},{"s":2,"t":17.73,"e":-0.05},{"s":2,"t":17.85,"e":0.1},{"s":2,"t":17.96,"e":0.22},{"s":2,"t":18.08,"e":-0.2},{"s":2,"t":18.19,"e":-0.67},{"s":2,"t":18.3,"e":-0.2},{"s":2,"t":18.43,"e":0.49},{"s":2,"t":18.55,"e":0.3},{"s":2,"t":18.66,"e":0.22},{"s":2,"t":18.78,"e":0.35},{"s":2,"t":18.89,"e":0.49},{"s":2,"t":19,"e":0.2},{"s":2,"t":19.12,"e":0.01},{"s":2,"t":19.3,"e":0.03},{"s":2,"t":19.58,"e":0},{"s":2,"t":23,"e":0},
{"s":3,"t":23,"e":0},{"s":3,"t":23.17,"e":-0.03},{"s":3,"t":23.4,"e":0.03},{"s":3,"t":23.63,"e":0.08},{"s":3,"t":23.85,"e":0.05},{"s":3,"t":24.1,"e":0.08},{"s":3,"t":24.35,"e":0.2},{"s":3,"t":24.56,"e":0.35},{"s":3,"t":24.7,"e":0.15},{"s":3,"t":24.9,"e":-0.05},{"s":3,"t":25.05,"e":-0.1},{"s":3,"t":25.25,"e":-0.19},{"s":3,"t":25.45,"e":-0.3},{"s":3,"t":25.6,"e":-0.39},{"s":3,"t":25.78,"e":-0.1},{"s":3,"t":25.95,"e":0.08},{"s":3,"t":26.18,"e":-0.05},{"s":3,"t":26.4,"e":0.2},{"s":3,"t":26.6,"e":0.25},{"s":3,"t":26.87,"e":0.49},{"s":3,"t":27,"e":0.55},{"s":3,"t":27.1,"e":0.69},{"s":3,"t":27.2,"e":0.5},{"s":3,"t":27.34,"e":0.22},{"s":3,"t":27.45,"e":-0.3},{"s":3,"t":27.52,"e":-0.6},{"s":3,"t":27.6,"e":-0.1},{"s":3,"t":27.68,"e":0.42},{"s":3,"t":27.8,"e":0.3},{"s":3,"t":27.92,"e":0.22},{"s":3,"t":28.05,"e":-0.1},{"s":3,"t":28.15,"e":-0.33},{"s":3,"t":28.27,"e":-0.1},{"s":3,"t":28.38,"e":0.15},{"s":3,"t":28.55,"e":0},{"s":3,"t":28.73,"e":-0.12},{"s":3,"t":28.9,"e":0.05},{"s":3,"t":29.07,"e":0.15},{"s":3,"t":29.25,"e":0.02},{"s":3,"t":29.42,"e":-0.05},{"s":3,"t":29.65,"e":0.03},{"s":3,"t":29.88,"e":0.05},{"s":3,"t":30.2,"e":0},{"s":3,"t":30.46,"e":0.01},{"s":3,"t":30.8,"e":0.03},{"s":3,"t":31.16,"e":0.05},{"s":3,"t":31.5,"e":0.01},{"s":3,"t":31.74,"e":0},{"s":3,"t":33,"e":0},
{"s":4,"t":33,"e":0},{"s":4,"t":33.36,"e":0.05},{"s":4,"t":33.55,"e":0.2},{"s":4,"t":33.7,"e":0.35},{"s":4,"t":33.88,"e":0.1},{"s":4,"t":34.05,"e":-0.19},{"s":4,"t":34.17,"e":-0.5},{"s":4,"t":34.28,"e":-0.87},{"s":4,"t":34.38,"e":-1.1},{"s":4,"t":34.47,"e":-1.28},{"s":4,"t":34.55,"e":-0.9},{"s":4,"t":34.63,"e":-0.33},{"s":4,"t":34.72,"e":0.5},{"s":4,"t":34.79,"e":1.31},{"s":4,"t":34.88,"e":1.1},{"s":4,"t":34.98,"e":0.76},{"s":4,"t":35.04,"e":0.1},{"s":4,"t":35.09,"e":-0.6},{"s":4,"t":35.18,"e":-0.9},{"s":4,"t":35.25,"e":-1.14},{"s":4,"t":35.32,"e":-1.4},{"s":4,"t":35.39,"e":-1.69},{"s":4,"t":35.46,"e":-0.6},{"s":4,"t":35.55,"e":0.49},{"s":4,"t":35.62,"e":1.2},{"s":4,"t":35.72,"e":1.85},{"s":4,"t":35.86,"e":2.3},{"s":4,"t":35.95,"e":2.3},{"s":4,"t":36,"e":-1},{"s":4,"t":36.02,"e":-2.3},{"s":4,"t":36.18,"e":-2.5},{"s":4,"t":36.3,"e":-2.4},{"s":4,"t":36.35,"e":0},{"s":4,"t":36.37,"e":2.3},{"s":4,"t":36.53,"e":2.3},{"s":4,"t":36.6,"e":1},{"s":4,"t":36.67,"e":0.22},{"s":4,"t":36.75,"e":0.5},{"s":4,"t":36.83,"e":0.76},{"s":4,"t":36.92,"e":0.3},{"s":4,"t":37.06,"e":-0.05},{"s":4,"t":37.18,"e":0.1},{"s":4,"t":37.3,"e":0.08},{"s":4,"t":37.45,"e":-0.02},{"s":4,"t":37.64,"e":-0.05},{"s":4,"t":37.8,"e":0.03},{"s":4,"t":37.99,"e":0.05},{"s":4,"t":38.15,"e":-0.02},{"s":4,"t":38.33,"e":-0.05},{"s":4,"t":38.5,"e":0.03},{"s":4,"t":38.68,"e":0.01},{"s":4,"t":38.9,"e":-0.03},{"s":4,"t":39.14,"e":0.05},{"s":4,"t":39.35,"e":0},{"s":4,"t":39.6,"e":-0.05},{"s":4,"t":40.07,"e":0},{"s":4,"t":43,"e":0},
{"s":5,"t":43,"e":0},{"s":5,"t":43.2,"e":-0.05},{"s":5,"t":43.43,"e":0.08},{"s":5,"t":43.55,"e":0.2},{"s":5,"t":43.66,"e":0.35},{"s":5,"t":43.78,"e":0.15},{"s":5,"t":43.89,"e":-0.05},{"s":5,"t":44,"e":-0.3},{"s":5,"t":44.12,"e":-0.6},{"s":5,"t":44.25,"e":-1.2},{"s":5,"t":44.35,"e":-1.82},{"s":5,"t":44.45,"e":0},{"s":5,"t":44.58,"e":2.3},{"s":5,"t":44.68,"e":0},{"s":5,"t":44.77,"e":-2.3},{"s":5,"t":44.85,"e":0},{"s":5,"t":44.93,"e":2.3},{"s":5,"t":45.12,"e":2.3},{"s":5,"t":45.2,"e":0},{"s":5,"t":45.28,"e":-2.3},{"s":5,"t":45.4,"e":0},{"s":5,"t":45.51,"e":2.3},{"s":5,"t":45.74,"e":2.3},{"s":5,"t":45.85,"e":0},{"s":5,"t":45.97,"e":-2.3},{"s":5,"t":46.27,"e":-2.3},{"s":5,"t":46.38,"e":0},{"s":5,"t":46.5,"e":2.3},{"s":5,"t":46.62,"e":0},{"s":5,"t":46.74,"e":-2.3},{"s":5,"t":46.9,"e":-1.14},{"s":5,"t":47,"e":0.5},{"s":5,"t":47.13,"e":2.3},{"s":5,"t":47.36,"e":2.3},{"s":5,"t":47.45,"e":0.5},{"s":5,"t":47.52,"e":-0.6},{"s":5,"t":47.62,"e":-0.2},{"s":5,"t":47.75,"e":0.35},{"s":5,"t":47.85,"e":0.1},{"s":5,"t":47.99,"e":-0.05},{"s":5,"t":48.15,"e":0.1},{"s":5,"t":48.29,"e":0.08},{"s":5,"t":48.45,"e":-0.03},{"s":5,"t":48.63,"e":0},{"s":5,"t":48.85,"e":0.03},{"s":5,"t":49.1,"e":0.05},{"s":5,"t":49.3,"e":0.01},{"s":5,"t":49.56,"e":-0.03},{"s":5,"t":49.8,"e":0.01},{"s":5,"t":50.25,"e":0},{"s":5,"t":52.22,"e":0},{"s":5,"t":52.35,"e":0.05},{"s":5,"t":52.45,"e":0.15},{"s":5,"t":52.55,"e":0.03},{"s":5,"t":52.68,"e":-0.05},{"s":5,"t":52.85,"e":0.02},{"s":5,"t":53.03,"e":0.05}
],
"b3":[
{"s":1,"t":3.03,"e":0},{"s":1,"t":3.5,"e":0.06},{"s":1,"t":3.6,"e":0.3},{"s":1,"t":3.68,"e":1.06},{"s":1,"t":3.76,"e":0.8},{"s":1,"t":3.84,"e":0.9},{"s":1,"t":3.92,"e":0.2},{"s":1,"t":4,"e":-0.37},{"s":1,"t":4.1,"e":-0.2},{"s":1,"t":4.19,"e":-0.5},{"s":1,"t":4.3,"e":0.6},{"s":1,"t":4.42,"e":1.34},{"s":1,"t":4.5,"e":0.8},{"s":1,"t":4.6,"e":0.34},{"s":1,"t":4.68,"e":0.6},{"s":1,"t":4.77,"e":0.9},{"s":1,"t":4.85,"e":0.2},{"s":1,"t":4.93,"e":-0.8},{"s":1,"t":5,"e":-2},{"s":1,"t":5.07,"e":-3.66},{"s":1,"t":5.13,"e":-3},{"s":1,"t":5.19,"e":-2.2},{"s":1,"t":5.25,"e":-0.5},{"s":1,"t":5.3,"e":1.5},{"s":1,"t":5.38,"e":2.5},{"s":1,"t":5.46,"e":2.9},{"s":1,"t":5.52,"e":2.6},{"s":1,"t":5.58,"e":2.3},{"s":1,"t":5.63,"e":3},{"s":1,"t":5.69,"e":3.8},{"s":1,"t":5.78,"e":3.4},{"s":1,"t":5.86,"e":2.6},{"s":1,"t":5.93,"e":2},{"s":1,"t":6,"e":1.2},{"s":1,"t":6.08,"e":1},{"s":1,"t":6.16,"e":1.34},{"s":1,"t":6.24,"e":0.2},{"s":1,"t":6.32,"e":-1.1},{"s":1,"t":6.4,"e":0.2},{"s":1,"t":6.46,"e":1.2},{"s":1,"t":6.54,"e":-1},{"s":1,"t":6.62,"e":-3.1},{"s":1,"t":6.68,"e":-3.7},{"s":1,"t":6.74,"e":-3.9},{"s":1,"t":6.85,"e":-4.3},{"s":1,"t":6.97,"e":-4.2},{"s":1,"t":7.03,"e":-2},{"s":1,"t":7.08,"e":0.9},{"s":1,"t":7.14,"e":1.2},{"s":1,"t":7.2,"e":1.34},{"s":1,"t":7.28,"e":0.5},{"s":1,"t":7.36,"e":-0.5},{"s":1,"t":7.45,"e":0.2},{"s":1,"t":7.55,"e":0.48},{"s":1,"t":7.62,"e":0.1},{"s":1,"t":7.7,"e":-0.23},{"s":1,"t":7.8,"e":0.2},{"s":1,"t":7.9,"e":0.34},{"s":1,"t":8,"e":-0.1},{"s":1,"t":8.08,"e":-0.5},{"s":1,"t":8.16,"e":0.1},{"s":1,"t":8.24,"e":0.63},{"s":1,"t":8.32,"e":0.8},{"s":1,"t":8.4,"e":0.77},{"s":1,"t":8.5,"e":0.3},{"s":1,"t":8.59,"e":-0.23},{"s":1,"t":8.68,"e":0.1},{"s":1,"t":8.77,"e":0.2},{"s":1,"t":8.9,"e":0.05},{"s":1,"t":9.05,"e":0},{"s":1,"t":9.4,"e":0.05},{"s":1,"t":9.75,"e":0.06},{"s":1,"t":10.5,"e":0},{"s":1,"t":11.37,"e":-0.09},{"s":1,"t":11.45,"e":-0.25},{"s":1,"t":11.55,"e":-0.37},{"s":1,"t":11.62,"e":-0.2},{"s":1,"t":11.7,"e":-0.09},{"s":1,"t":12,"e":0},{"s":1,"t":13,"e":0},
{"s":2,"t":13,"e":0},{"s":2,"t":13.45,"e":0.06},{"s":2,"t":13.8,"e":0.2},{"s":2,"t":13.9,"e":0.6},{"s":2,"t":14.03,"e":1.2},{"s":2,"t":14.1,"e":0.6},{"s":2,"t":14.2,"e":-0.23},{"s":2,"t":14.3,"e":-0.3},{"s":2,"t":14.43,"e":-0.5},{"s":2,"t":14.52,"e":-0.7},{"s":2,"t":14.6,"e":-0.94},{"s":2,"t":14.7,"e":0.5},{"s":2,"t":14.8,"e":1.9},{"s":2,"t":14.87,"e":0.8},{"s":2,"t":14.95,"e":-0.5},{"s":2,"t":15.05,"e":-0.6},{"s":2,"t":15.19,"e":-0.66},{"s":2,"t":15.3,"e":-0.4},{"s":2,"t":15.42,"e":-0.5},{"s":2,"t":15.55,"e":-0.7},{"s":2,"t":15.65,"e":-0.8},{"s":2,"t":15.75,"e":-0.6},{"s":2,"t":15.88,"e":-0.94},{"s":2,"t":15.95,"e":0.5},{"s":2,"t":16.02,"e":2.5},{"s":2,"t":16.1,"e":3.2},{"s":2,"t":16.2,"e":3.4},{"s":2,"t":16.34,"e":3.5},{"s":2,"t":16.42,"e":3.1},{"s":2,"t":16.5,"e":2.6},{"s":2,"t":16.58,"e":1},{"s":2,"t":16.64,"e":-0.8},{"s":2,"t":16.7,"e":-4.3},{"s":2,"t":16.8,"e":-4.3},{"s":2,"t":16.87,"e":-3.9},{"s":2,"t":16.95,"e":-1.5},{"s":2,"t":17,"e":-0.5},{"s":2,"t":17.04,"e":0.06},{"s":2,"t":17.07,"e":-2},{"s":2,"t":17.1,"e":-4.3},{"s":2,"t":17.15,"e":-1},{"s":2,"t":17.2,"e":2.9},{"s":2,"t":17.28,"e":2.6},{"s":2,"t":17.34,"e":3.06},{"s":2,"t":17.4,"e":1},{"s":2,"t":17.43,"e":-0.23},{"s":2,"t":17.52,"e":0.3},{"s":2,"t":17.62,"e":0.06},{"s":2,"t":17.72,"e":0.2},{"s":2,"t":17.85,"e":0.34},{"s":2,"t":17.95,"e":0.1},{"s":2,"t":18.08,"e":-0.09},{"s":2,"t":18.3,"e":0.05},{"s":2,"t":18.54,"e":0.06},{"s":2,"t":18.8,"e":0},{"s":2,"t":19.24,"e":0},{"s":2,"t":20.5,"e":0.03},{"s":2,"t":21,"e":0.05},{"s":2,"t":21.1,"e":0.2},{"s":2,"t":21.2,"e":0.1},{"s":2,"t":21.3,"e":0},{"s":2,"t":23,"e":0},
{"s":3,"t":23,"e":0},{"s":3,"t":23.17,"e":-0.09},{"s":3,"t":23.35,"e":0.05},{"s":3,"t":23.5,"e":0.2},{"s":3,"t":23.7,"e":0.4},{"s":3,"t":23.87,"e":0.63},{"s":3,"t":24,"e":0.8},{"s":3,"t":24.1,"e":0.9},{"s":3,"t":24.2,"e":0.3},{"s":3,"t":24.33,"e":-0.5},{"s":3,"t":24.45,"e":0.5},{"s":3,"t":24.56,"e":1.5},{"s":3,"t":24.65,"e":1},{"s":3,"t":24.8,"e":0.34},{"s":3,"t":24.88,"e":0.1},{"s":3,"t":24.98,"e":-0.09},{"s":3,"t":25.07,"e":0.2},{"s":3,"t":25.14,"e":0.34},{"s":3,"t":25.22,"e":-0.6},{"s":3,"t":25.3,"e":-1.66},{"s":3,"t":25.4,"e":-2.3},{"s":3,"t":25.49,"e":-2.8},{"s":3,"t":25.56,"e":-3.3},{"s":3,"t":25.6,"e":-3.66},{"s":3,"t":25.66,"e":-1.5},{"s":3,"t":25.72,"e":1.2},{"s":3,"t":25.78,"e":2.3},{"s":3,"t":25.83,"e":3.2},{"s":3,"t":25.95,"e":3.6},{"s":3,"t":26.06,"e":4.5},{"s":3,"t":26.4,"e":5},{"s":3,"t":26.85,"e":5},{"s":3,"t":26.92,"e":0},{"s":3,"t":26.99,"e":-4.5},{"s":3,"t":27.15,"e":-4.4},{"s":3,"t":27.22,"e":-1},{"s":3,"t":27.3,"e":1.5},{"s":3,"t":27.4,"e":2.5},{"s":3,"t":27.5,"e":2.3},{"s":3,"t":27.56,"e":-1},{"s":3,"t":27.62,"e":-4.5},{"s":3,"t":27.68,"e":-0.5},{"s":3,"t":27.8,"e":0.06},{"s":3,"t":27.9,"e":-0.1},{"s":3,"t":28.03,"e":-0.23},{"s":3,"t":28.2,"e":0.1},{"s":3,"t":28.38,"e":0.06},{"s":3,"t":28.55,"e":-0.1},{"s":3,"t":28.73,"e":-0.23},{"s":3,"t":28.9,"e":0.1},{"s":3,"t":29.07,"e":0.34},{"s":3,"t":29.25,"e":0.1},{"s":3,"t":29.42,"e":0},{"s":3,"t":30,"e":0.02},{"s":3,"t":31,"e":0},{"s":3,"t":33,"e":0},
{"s":4,"t":33,"e":0},{"s":4,"t":33.36,"e":0.2},{"s":4,"t":33.5,"e":0.4},{"s":4,"t":33.59,"e":0.63},{"s":4,"t":33.68,"e":1},{"s":4,"t":33.77,"e":1.34},{"s":4,"t":33.85,"e":0.6},{"s":4,"t":33.94,"e":-0.09},{"s":4,"t":34.05,"e":-1},{"s":4,"t":34.17,"e":-1.94},{"s":4,"t":34.23,"e":-3},{"s":4,"t":34.28,"e":-3.9},{"s":4,"t":34.34,"e":-2.5},{"s":4,"t":34.4,"e":-0.8},{"s":4,"t":34.46,"e":2},{"s":4,"t":34.51,"e":4.3},{"s":4,"t":34.6,"e":4.3},{"s":4,"t":34.68,"e":4.2},{"s":4,"t":34.74,"e":3.9},{"s":4,"t":34.83,"e":1.5},{"s":4,"t":34.93,"e":-0.8},{"s":4,"t":35,"e":-2.5},{"s":4,"t":35.09,"e":-3.66},{"s":4,"t":35.17,"e":-3.8},{"s":4,"t":35.25,"e":-3.9},{"s":4,"t":35.32,"e":-3},{"s":4,"t":35.39,"e":-2.2},{"s":4,"t":35.45,"e":1},{"s":4,"t":35.51,"e":3.9},{"s":4,"t":35.56,"e":3},{"s":4,"t":35.62,"e":2.06},{"s":4,"t":35.7,"e":-1},{"s":4,"t":35.78,"e":-4.3},{"s":4,"t":35.9,"e":-4.3},{"s":4,"t":35.96,"e":0},{"s":4,"t":36.02,"e":4.3},{"s":4,"t":36.1,"e":3},{"s":4,"t":36.18,"e":1.5},{"s":4,"t":36.28,"e":1.8},{"s":4,"t":36.37,"e":2.06},{"s":4,"t":36.45,"e":0.8},{"s":4,"t":36.53,"e":-0.8},{"s":4,"t":36.62,"e":-2.5},{"s":4,"t":36.71,"e":-3.66},{"s":4,"t":36.77,"e":-2},{"s":4,"t":36.83,"e":-0.09},{"s":4,"t":36.95,"e":0.2},{"s":4,"t":37.06,"e":0.34},{"s":4,"t":37.18,"e":0},{"s":4,"t":37.3,"e":-0.5},{"s":4,"t":37.4,"e":-0.8},{"s":4,"t":37.48,"e":-1.1},{"s":4,"t":37.56,"e":-0.3},{"s":4,"t":37.64,"e":0.63},{"s":4,"t":37.75,"e":0.2},{"s":4,"t":37.87,"e":-0.66},{"s":4,"t":37.98,"e":-0.1},{"s":4,"t":38.1,"e":0.48},{"s":4,"t":38.22,"e":0.2},{"s":4,"t":38.33,"e":-0.23},{"s":4,"t":38.45,"e":0},{"s":4,"t":38.56,"e":0.2},{"s":4,"t":38.7,"e":0.05},{"s":4,"t":38.91,"e":0},{"s":4,"t":43,"e":0},
{"s":5,"t":43,"e":0},{"s":5,"t":43.08,"e":-0.09},{"s":5,"t":43.25,"e":0.05},{"s":5,"t":43.43,"e":0.2},{"s":5,"t":43.6,"e":0.6},{"s":5,"t":43.77,"e":1.2},{"s":5,"t":43.86,"e":0.9},{"s":5,"t":43.96,"e":0.63},{"s":5,"t":44.04,"e":1},{"s":5,"t":44.12,"e":1.5},{"s":5,"t":44.2,"e":0.5},{"s":5,"t":44.31,"e":-0.8},{"s":5,"t":44.4,"e":-2.2},{"s":5,"t":44.47,"e":-3.5},{"s":5,"t":44.55,"e":-2},{"s":5,"t":44.63,"e":-0.8},{"s":5,"t":44.72,"e":1.5},{"s":5,"t":44.81,"e":3.8},{"s":5,"t":44.9,"e":2.5},{"s":5,"t":44.98,"e":1.2},{"s":5,"t":45.07,"e":-0.3},{"s":5,"t":45.16,"e":-1.66},{"s":5,"t":45.24,"e":-1.8},{"s":5,"t":45.32,"e":-1.94},{"s":5,"t":45.4,"e":-0.5},{"s":5,"t":45.46,"e":0.63},{"s":5,"t":45.54,"e":1},{"s":5,"t":45.62,"e":1.2},{"s":5,"t":45.72,"e":0.8},{"s":5,"t":45.81,"e":0.48},{"s":5,"t":45.92,"e":0.6},{"s":5,"t":46.04,"e":0.63},{"s":5,"t":46.18,"e":0.8},{"s":5,"t":46.32,"e":1.06},{"s":5,"t":46.42,"e":2},{"s":5,"t":46.5,"e":3.2},{"s":5,"t":46.58,"e":2},{"s":5,"t":46.67,"e":0.63},{"s":5,"t":46.72,"e":-1.5},{"s":5,"t":46.78,"e":-3.8},{"s":5,"t":46.88,"e":-3.7},{"s":5,"t":46.97,"e":-3.66},{"s":5,"t":47.05,"e":-1.5},{"s":5,"t":47.13,"e":0.34},{"s":5,"t":47.25,"e":0.6},{"s":5,"t":47.36,"e":0.77},{"s":5,"t":47.48,"e":0.3},{"s":5,"t":47.59,"e":0.06},{"s":5,"t":47.7,"e":-0.2},{"s":5,"t":47.82,"e":-0.37},{"s":5,"t":48,"e":-0.2},{"s":5,"t":48.17,"e":-0.09},{"s":5,"t":48.4,"e":0},{"s":5,"t":48.63,"e":0.06},{"s":5,"t":49,"e":0.1},{"s":5,"t":49.33,"e":0.2},{"s":5,"t":49.7,"e":0.25},{"s":5,"t":50.02,"e":0.34},{"s":5,"t":50.25,"e":0.4},{"s":5,"t":50.49,"e":0.48},{"s":5,"t":50.6,"e":1.5},{"s":5,"t":50.72,"e":2.77},{"s":5,"t":50.85,"e":3.4},{"s":5,"t":50.95,"e":3.8},{"s":5,"t":51.05,"e":3},{"s":5,"t":51.13,"e":2.34},{"s":5,"t":51.22,"e":0.5},{"s":5,"t":51.3,"e":-1.23},{"s":5,"t":51.42,"e":-1.4},{"s":5,"t":51.53,"e":-1.66},{"s":5,"t":51.65,"e":-1.2},{"s":5,"t":51.76,"e":-0.8},{"s":5,"t":51.85,"e":-2},{"s":5,"t":51.92,"e":-2.8},{"s":5,"t":51.98,"e":0},{"s":5,"t":52.06,"e":2.77},{"s":5,"t":52.14,"e":1.5},{"s":5,"t":52.22,"e":0.63},{"s":5,"t":52.3,"e":1.2},{"s":5,"t":52.38,"e":1.63},{"s":5,"t":52.48,"e":0.5},{"s":5,"t":52.57,"e":-0.66},{"s":5,"t":52.66,"e":0},{"s":5,"t":52.75,"e":0.34},{"s":5,"t":52.84,"e":-0.1},{"s":5,"t":52.92,"e":-0.5},{"s":5,"t":53,"e":-1.5},{"s":5,"t":53.08,"e":-2.2}
],
"b4":[
{"s":1,"t":3.03,"e":0.2},{"s":1,"t":3.5,"e":0.12},{"s":1,"t":3.7,"e":0.6},{"s":1,"t":3.84,"e":1.04},{"s":1,"t":3.95,"e":0.6},{"s":1,"t":4.07,"e":0.2},{"s":1,"t":4.25,"e":-0.4},{"s":1,"t":4.42,"e":-0.83},{"s":1,"t":4.55,"e":0.2},{"s":1,"t":4.65,"e":0.83},{"s":1,"t":4.75,"e":0.3},{"s":1,"t":4.84,"e":0},{"s":1,"t":4.92,"e":-1},{"s":1,"t":5,"e":-2.1},{"s":1,"t":5.16,"e":-2.3},{"s":1,"t":5.25,"e":-1.2},{"s":1,"t":5.35,"e":-0.2},{"s":1,"t":5.45,"e":0.5},{"s":1,"t":5.58,"e":0.83},{"s":1,"t":5.7,"e":0.5},{"s":1,"t":5.81,"e":0.63},{"s":1,"t":5.9,"e":0.9},{"s":1,"t":6,"e":1.25},{"s":1,"t":6.09,"e":-0.83},{"s":1,"t":6.18,"e":1},{"s":1,"t":6.27,"e":2.5},{"s":1,"t":6.36,"e":3.5},{"s":1,"t":6.46,"e":4.6},{"s":1,"t":6.52,"e":5.3},{"s":1,"t":6.57,"e":5.8},{"s":1,"t":6.63,"e":4},{"s":1,"t":6.69,"e":1.25},{"s":1,"t":6.74,"e":-3},{"s":1,"t":6.78,"e":-6.5},{"s":1,"t":6.97,"e":-4.6},{"s":1,"t":7.1,"e":-4.7},{"s":1,"t":7.2,"e":-4.8},{"s":1,"t":7.3,"e":-5.5},{"s":1,"t":7.38,"e":-6.5},{"s":1,"t":7.44,"e":-2},{"s":1,"t":7.5,"e":0.83},{"s":1,"t":7.58,"e":1.5},{"s":1,"t":7.66,"e":2.1},{"s":1,"t":7.72,"e":1},{"s":1,"t":7.78,"e":0},{"s":1,"t":7.84,"e":0.8},{"s":1,"t":7.9,"e":1.25},{"s":1,"t":7.99,"e":0.4},{"s":1,"t":8.08,"e":-0.2},{"s":1,"t":8.2,"e":0.3},{"s":1,"t":8.31,"e":0.42},{"s":1,"t":8.42,"e":0.1},{"s":1,"t":8.54,"e":0},{"s":1,"t":8.68,"e":0.3},{"s":1,"t":8.82,"e":0.2},{"s":1,"t":9.05,"e":0.05},{"s":1,"t":9.28,"e":-0.1},{"s":1,"t":9.51,"e":0.1},{"s":1,"t":9.8,"e":0},{"s":1,"t":13,"e":0},
{"s":2,"t":13,"e":0},{"s":2,"t":13.45,"e":0.1},{"s":2,"t":13.7,"e":0.2},{"s":2,"t":13.91,"e":0.33},{"s":2,"t":14.05,"e":0.45},{"s":2,"t":14.19,"e":0.5},{"s":2,"t":14.3,"e":0.1},{"s":2,"t":14.42,"e":-0.2},{"s":2,"t":14.55,"e":-0.3},{"s":2,"t":14.72,"e":-0.42},{"s":2,"t":14.85,"e":0},{"s":2,"t":14.95,"e":0.2},{"s":2,"t":15.3,"e":0.2},{"s":2,"t":15.5,"e":0.4},{"s":2,"t":15.65,"e":0.63},{"s":2,"t":15.78,"e":1},{"s":2,"t":15.88,"e":1.67},{"s":2,"t":15.96,"e":3},{"s":2,"t":16.04,"e":4.2},{"s":2,"t":16.11,"e":4.3},{"s":2,"t":16.18,"e":4.4},{"s":2,"t":16.26,"e":2},{"s":2,"t":16.34,"e":-0.42},{"s":2,"t":16.4,"e":-3.5},{"s":2,"t":16.46,"e":-6.5},{"s":2,"t":16.52,"e":-4},{"s":2,"t":16.57,"e":-2.3},{"s":2,"t":16.63,"e":-2},{"s":2,"t":16.69,"e":-1.67},{"s":2,"t":16.78,"e":-0.5},{"s":2,"t":16.88,"e":0.2},{"s":2,"t":17,"e":0.1},{"s":2,"t":17.1,"e":-0.2},{"s":2,"t":17.22,"e":0.1},{"s":2,"t":17.34,"e":0.2},{"s":2,"t":17.48,"e":0.35},{"s":2,"t":17.62,"e":0.5},{"s":2,"t":17.8,"e":0.1},{"s":2,"t":17.96,"e":0},{"s":2,"t":18.2,"e":0.05},{"s":2,"t":18.54,"e":0.1},{"s":2,"t":19.5,"e":0.05},{"s":2,"t":20.5,"e":0.08},{"s":2,"t":21.5,"e":0.1},{"s":2,"t":21.8,"e":0.25},{"s":2,"t":21.9,"e":0.17},{"s":2,"t":22.3,"e":0.05},{"s":2,"t":23,"e":0},
{"s":3,"t":23,"e":0},{"s":3,"t":23.17,"e":-0.1},{"s":3,"t":23.4,"e":0.05},{"s":3,"t":23.63,"e":0.2},{"s":3,"t":23.75,"e":0.4},{"s":3,"t":23.87,"e":0.63},{"s":3,"t":23.95,"e":1},{"s":3,"t":24.03,"e":1.25},{"s":3,"t":24.1,"e":0.8},{"s":3,"t":24.2,"e":0.2},{"s":3,"t":24.32,"e":-0.8},{"s":3,"t":24.44,"e":-1.67},{"s":3,"t":24.56,"e":-2.5},{"s":3,"t":24.68,"e":-3.3},{"s":3,"t":24.8,"e":-4},{"s":3,"t":24.85,"e":0},{"s":3,"t":24.9,"e":5.8},{"s":3,"t":25,"e":5},{"s":3,"t":25.07,"e":4.6},{"s":3,"t":25.16,"e":2.5},{"s":3,"t":25.25,"e":0.42},{"s":3,"t":25.33,"e":-1},{"s":3,"t":25.42,"e":-2.5},{"s":3,"t":25.5,"e":-4},{"s":3,"t":25.6,"e":-5.8},{"s":3,"t":25.68,"e":-2},{"s":3,"t":25.76,"e":0.83},{"s":3,"t":25.85,"e":2},{"s":3,"t":25.95,"e":2.5},{"s":3,"t":26.1,"e":3},{"s":3,"t":26.18,"e":3.75},{"s":3,"t":26.3,"e":3.1},{"s":3,"t":26.4,"e":2.5},{"s":3,"t":26.52,"e":1},{"s":3,"t":26.64,"e":-0.42},{"s":3,"t":26.74,"e":-2.5},{"s":3,"t":26.83,"e":-4.6},{"s":3,"t":26.92,"e":-6.5},{"s":3,"t":26.99,"e":-6.5},{"s":3,"t":27.1,"e":-5},{"s":3,"t":27.22,"e":-3.3},{"s":3,"t":27.3,"e":-1},{"s":3,"t":27.38,"e":0.42},{"s":3,"t":27.5,"e":0.2},{"s":3,"t":27.62,"e":-0.42},{"s":3,"t":27.7,"e":0.3},{"s":3,"t":27.8,"e":0.63},{"s":3,"t":27.9,"e":0.1},{"s":3,"t":28.03,"e":-0.2},{"s":3,"t":28.2,"e":0.1},{"s":3,"t":28.38,"e":0.2},{"s":3,"t":28.6,"e":0},{"s":3,"t":28.96,"e":-0.1},{"s":3,"t":29.3,"e":0.05},{"s":3,"t":29.65,"e":0.1},{"s":3,"t":30,"e":0},{"s":3,"t":33,"e":0},
{"s":4,"t":33,"e":0},{"s":4,"t":33.3,"e":0.2},{"s":4,"t":33.47,"e":0.42},{"s":4,"t":33.6,"e":0.6},{"s":4,"t":33.7,"e":0.83},{"s":4,"t":33.85,"e":0.3},{"s":4,"t":34.05,"e":-0.42},{"s":4,"t":34.2,"e":-0.6},{"s":4,"t":34.4,"e":-0.83},{"s":4,"t":34.55,"e":-0.5},{"s":4,"t":34.74,"e":-0.42},{"s":4,"t":34.9,"e":-0.2},{"s":4,"t":35.09,"e":0},{"s":4,"t":35.25,"e":0.1},{"s":4,"t":35.44,"e":0.2},{"s":4,"t":35.55,"e":0.4},{"s":4,"t":35.67,"e":0.63},{"s":4,"t":35.8,"e":1},{"s":4,"t":35.9,"e":1.67},{"s":4,"t":36,"e":2.8},{"s":4,"t":36.09,"e":3.75},{"s":4,"t":36.18,"e":5},{"s":4,"t":36.25,"e":6.5},{"s":4,"t":36.31,"e":6.5},{"s":4,"t":36.37,"e":2.5},{"s":4,"t":36.42,"e":-3},{"s":4,"t":36.48,"e":-6.5},{"s":4,"t":36.71,"e":-6.5},{"s":4,"t":36.77,"e":-3},{"s":4,"t":36.83,"e":0},{"s":4,"t":37,"e":3},{"s":4,"t":37.12,"e":6.5},{"s":4,"t":37.18,"e":6.5},{"s":4,"t":37.23,"e":0},{"s":4,"t":37.29,"e":-6.5},{"s":4,"t":37.35,"e":0},{"s":4,"t":37.4,"e":6.5},{"s":4,"t":37.45,"e":6.5},{"s":4,"t":37.55,"e":2},{"s":4,"t":37.64,"e":-0.42},{"s":4,"t":37.75,"e":0.1},{"s":4,"t":37.87,"e":0},{"s":4,"t":38,"e":0.2},{"s":4,"t":38.22,"e":-0.1},{"s":4,"t":38.5,"e":0.05},{"s":4,"t":38.8,"e":0},{"s":4,"t":41.23,"e":0},{"s":4,"t":41.35,"e":0.5},{"s":4,"t":41.46,"e":1.67},{"s":4,"t":41.6,"e":4},{"s":4,"t":41.74,"e":6.5},{"s":4,"t":41.92,"e":6.5},{"s":4,"t":42.05,"e":4},{"s":4,"t":42.15,"e":2.5},{"s":4,"t":42.25,"e":-2},{"s":4,"t":42.38,"e":-6.5},{"s":4,"t":42.45,"e":-6.5},
{"s":5,"t":42.96,"e":0},{"s":5,"t":43.1,"e":-0.05},{"s":5,"t":43.31,"e":0.2},{"s":5,"t":43.5,"e":0.5},{"s":5,"t":43.66,"e":0.83},{"s":5,"t":43.78,"e":0.4},{"s":5,"t":43.89,"e":0},{"s":5,"t":44.05,"e":-0.2},{"s":5,"t":44.24,"e":-0.42},{"s":5,"t":44.45,"e":-0.1},{"s":5,"t":44.7,"e":0},{"s":5,"t":44.88,"e":-0.3},{"s":5,"t":45.05,"e":-0.42},{"s":5,"t":45.2,"e":0},{"s":5,"t":45.39,"e":0.2},{"s":5,"t":45.55,"e":0.5},{"s":5,"t":45.74,"e":0.83},{"s":5,"t":45.85,"e":1.2},{"s":5,"t":45.97,"e":1.67},{"s":5,"t":46.05,"e":2},{"s":5,"t":46.13,"e":2.5},{"s":5,"t":46.18,"e":-2},{"s":5,"t":46.23,"e":-6.5},{"s":5,"t":46.3,"e":0},{"s":5,"t":46.37,"e":6.5},{"s":5,"t":46.44,"e":0},{"s":5,"t":46.5,"e":-6.5},{"s":5,"t":46.58,"e":-2},{"s":5,"t":46.67,"e":0},{"s":5,"t":46.78,"e":0.5},{"s":5,"t":46.9,"e":0.83},{"s":5,"t":47,"e":0.4},{"s":5,"t":47.13,"e":0},{"s":5,"t":47.3,"e":0.4},{"s":5,"t":47.48,"e":0.83},{"s":5,"t":47.65,"e":0.5},{"s":5,"t":47.82,"e":0.2},{"s":5,"t":48,"e":0.1},{"s":5,"t":48.17,"e":0},{"s":5,"t":48.6,"e":0.05},{"s":5,"t":49,"e":0.1},{"s":5,"t":49.33,"e":0.1},{"s":5,"t":49.6,"e":0.05},{"s":5,"t":49.79,"e":0},{"s":5,"t":49.9,"e":-1},{"s":5,"t":50.02,"e":-2.5},{"s":5,"t":50.13,"e":-4.5},{"s":5,"t":50.25,"e":-6.5},{"s":5,"t":50.3,"e":-1},{"s":5,"t":50.37,"e":6.5},{"s":5,"t":50.42,"e":0},{"s":5,"t":50.49,"e":-6.5},{"s":5,"t":50.6,"e":-3},{"s":5,"t":50.72,"e":-0.83},{"s":5,"t":50.9,"e":-0.6},{"s":5,"t":51.06,"e":-0.42},{"s":5,"t":51.18,"e":-3},{"s":5,"t":51.3,"e":-6.5},{"s":5,"t":51.35,"e":0},{"s":5,"t":51.41,"e":6.5},{"s":5,"t":51.47,"e":0},{"s":5,"t":51.53,"e":-6.5},{"s":5,"t":51.62,"e":-3},{"s":5,"t":51.76,"e":-0.83},{"s":5,"t":51.85,"e":-1.8},{"s":5,"t":51.92,"e":-2.5},{"s":5,"t":52.02,"e":-1.5},{"s":5,"t":52.11,"e":-0.83},{"s":5,"t":52.2,"e":-3.5},{"s":5,"t":52.29,"e":-6.5},{"s":5,"t":52.37,"e":-1},{"s":5,"t":52.45,"e":4},{"s":5,"t":52.54,"e":3.8},{"s":5,"t":52.62,"e":3.3},{"s":5,"t":52.7,"e":0},{"s":5,"t":52.75,"e":-2.9},{"s":5,"t":52.84,"e":-4.5},{"s":5,"t":52.92,"e":-5.8},{"s":5,"t":53,"e":-4},{"s":5,"t":53.03,"e":-2.5}
]
},
"vconcat":[
{"vconcat":[
 {"width":757,"height":94,"data":{"name":"a1"},
  "title":{"text":"Yaw-rates and target yaw-rates","frame":"group","offset":2},
  "layer":[
   {"mark":{"type":"line","strokeWidth":4,"clip":true},
    "encoding":{
     "x":{"field":"t","type":"quantitative","scale":{"domain":[1.8,55],"nice":false,"zero":false},"axis":{"values":[5,10,15,20,25,30,35,40,45,50],"labels":false,"title":null,"grid":true,"minExtent":0,"maxExtent":0}},
     "y":{"field":"y","type":"quantitative","scale":{"domain":[-20,20],"nice":false,"zero":false},"axis":{"title":"deg/s","values":[-20,0,20],"labelFlush":false,"labelOverlap":false,"titlePadding":7}},
     "color":{"field":"s","type":"nominal","scale":{"domain":[1,2,3,4,5],"range":["#0000ff","#00bfbf","#bfbf00","#303030","#008000"]},"legend":null}}},
   {"mark":{"type":"line","strokeWidth":4,"clip":true},
    "encoding":{
     "x":{"field":"t","type":"quantitative"},
     "y":{"field":"g","type":"quantitative"},
     "color":{"field":"s","type":"nominal","scale":{"domain":[1,2,3,4,5],"range":["#008000","#ff0000","#bf00bf","#0000ff","#ff0000"]},"legend":null},
     "strokeDash":{"field":"s","type":"nominal","scale":{"domain":[1,2,3,4,5],"range":[[10,4,3,4],[3,5],[3,5],[8,3,3,3],[8,3,3,3]]},"legend":null}}},
   {"data":{"values":[{"k":"yaw rate"},{"k":"target yaw rate"}]},
    "mark":{"type":"line","opacity":0},
    "encoding":{
     "color":{"field":"k","type":"nominal","scale":{"domain":["yaw rate","target yaw rate"],"range":["#0000ff","#008000"]},
       "legend":{"title":null,"orient":"none","legendX":221,"legendY":80,"fillColor":"white","strokeColor":"#9a9a9a","padding":6,"symbolType":"M-1,0H7.125","symbolSize":256,"symbolStrokeWidth":3,"symbolOpacity":1,"labelFont":"DejaVu Sans","labelFontSize":14,"labelColor":"#222","labelOffset":60,"rowPadding":3,
         "encode":{"symbols":{"update":{"strokeDash":{"signal":"datum.value === 'target yaw rate' ? [10,4,3,4] : [1,0]"},"opacity":{"value":1},"strokeOpacity":{"value":1}}}}}}}}
  ],
  "resolve":{"scale":{"color":"independent"}}},
 {"width":757,"height":95,"data":{"name":"a2"},
  "layer":[
   {"mark":{"type":"line","strokeWidth":4,"clip":true},
    "encoding":{
     "x":{"field":"t","type":"quantitative","scale":{"domain":[1.8,55],"nice":false,"zero":false},"axis":{"values":[5,10,15,20,25,30,35,40,45,50],"labels":false,"title":null,"grid":true,"minExtent":0,"maxExtent":0}},
     "y":{"field":"y","type":"quantitative","scale":{"domain":[-23.75,35.6],"nice":false,"zero":false},"axis":{"title":"deg/s","values":[-20,0,20],"labelFlush":false,"labelOverlap":false,"titlePadding":7}},
     "color":{"field":"s","type":"nominal","scale":{"domain":[1,2,3,4,5],"range":["#0000ff","#00bfbf","#bfbf00","#303030","#008000"]},"legend":null}}},
   {"mark":{"type":"line","strokeWidth":4,"clip":true},
    "encoding":{
     "x":{"field":"t","type":"quantitative"},
     "y":{"field":"g","type":"quantitative","axis":{"orient":"right","values":[29.4],"labelExpr":"'5'","title":null,"grid":false,"labelFlush":false,"labelPadding":3}},
     "color":{"field":"s","type":"nominal","scale":{"domain":[1,2,3,4,5],"range":["#008000","#ff0000","#bf00bf","#0000ff","#ff0000"]},"legend":null},
     "strokeDash":{"field":"s","type":"nominal","scale":{"domain":[1,2,3,4,5],"range":[[10,4,3,4],[3,5],[3,5],[8,3,3,3],[8,3,3,3]]},"legend":null}}}
  ],
  "resolve":{"scale":{"color":"independent"},"axis":{"y":"independent"}}},
 {"width":757,"height":96,"data":{"name":"a3"},
  "layer":[
   {"mark":{"type":"line","strokeWidth":4,"clip":true},
    "encoding":{
     "x":{"field":"t","type":"quantitative","scale":{"domain":[1.8,55],"nice":false,"zero":false},"axis":{"values":[5,10,15,20,25,30,35,40,45,50],"labels":false,"title":null,"grid":true,"minExtent":0,"maxExtent":0}},
     "y":{"field":"y","type":"quantitative","scale":{"domain":[-36.3,34.8],"nice":false,"zero":false},"axis":{"title":"deg/s","values":[-20,0,20],"labelFlush":false,"labelOverlap":false,"titlePadding":7}},
     "color":{"field":"s","type":"nominal","scale":{"domain":[1,2,3,4,5],"range":["#0000ff","#00bfbf","#bfbf00","#303030","#008000"]},"legend":null}}},
   {"mark":{"type":"line","strokeWidth":4,"clip":true},
    "encoding":{
     "x":{"field":"t","type":"quantitative"},
     "y":{"field":"g","type":"quantitative","axis":{"orient":"right","values":[27.4],"labelExpr":"'5'","title":null,"grid":false,"labelFlush":false,"labelPadding":3}},
     "color":{"field":"s","type":"nominal","scale":{"domain":[1,2,3,4,5],"range":["#008000","#ff0000","#bf00bf","#0000ff","#ff0000"]},"legend":null},
     "strokeDash":{"field":"s","type":"nominal","scale":{"domain":[1,2,3,4,5],"range":[[10,4,3,4],[3,5],[3,5],[8,3,3,3],[8,3,3,3]]},"legend":null}}}
  ],
  "resolve":{"scale":{"color":"independent"},"axis":{"y":"independent"}}},
 {"width":757,"height":93,"data":{"name":"a4"},
  "title":{"text":"(a)","orient":"bottom","frame":"group","offset":7,"fontSize":24,"fontWeight":"bold"},
  "layer":[
   {"mark":{"type":"line","strokeWidth":4,"clip":true},
    "encoding":{
     "x":{"field":"t","type":"quantitative","scale":{"domain":[1.8,55],"nice":false,"zero":false},"axis":{"values":[5,10,15,20,25,30,35,40,45,50,55],"title":"time (s)","grid":true,"labelFlush":false,"labelPadding":4,"titlePadding":2}},
     "y":{"field":"y","type":"quantitative","scale":{"domain":[-44.8,43.8],"nice":false,"zero":false},"axis":{"title":"deg/s","values":[-40,-20,0,20,40],"labelFlush":false,"labelOverlap":false,"titlePadding":7}},
     "color":{"field":"s","type":"nominal","scale":{"domain":[1,2,3,4,5],"range":["#0000ff","#00bfbf","#bfbf00","#303030","#008000"]},"legend":null}}},
   {"mark":{"type":"line","strokeWidth":4,"clip":true},
    "encoding":{
     "x":{"field":"t","type":"quantitative"},
     "y":{"field":"g","type":"quantitative","axis":{"orient":"right","values":[35.2],"labelExpr":"'5'","title":null,"grid":false,"labelFlush":false,"labelPadding":3}},
     "color":{"field":"s","type":"nominal","scale":{"domain":[1,2,3,4,5],"range":["#008000","#ff0000","#bf00bf","#0000ff","#ff0000"]},"legend":null},
     "strokeDash":{"field":"s","type":"nominal","scale":{"domain":[1,2,3,4,5],"range":[[10,4,3,4],[3,5],[3,5],[8,3,3,3],[8,3,3,3]]},"legend":null}}}
  ],
  "resolve":{"scale":{"color":"independent"},"axis":{"y":"independent"}}}
 ],
 "spacing":0,"bounds":"flush"},
{"vconcat":[
 {"width":757,"height":94,"data":{"name":"b1"},
  "title":{"text":"Yaw-rate tracking errors","frame":"group","offset":6},
  "mark":{"type":"line","strokeWidth":3.5,"clip":true},
  "encoding":{
   "x":{"field":"t","type":"quantitative","scale":{"domain":[2.43,55],"nice":false,"zero":false},"axis":{"values":[5,10,15,20,25,30,35,40,45,50],"labels":false,"title":null,"grid":true,"minExtent":0,"maxExtent":0}},
   "y":{"field":"e","type":"quantitative","scale":{"domain":[-1.49,1.155],"nice":false,"zero":false},"axis":{"title":"deg/s","values":[-1,0,1],"labelFlush":false,"labelOverlap":false,"titlePadding":11}},
   "color":{"field":"s","type":"nominal","scale":{"domain":[1,2,3,4,5],"range":["#0000ff","#008000","#ff0000","#00bfbf","#bf00bf"]},"legend":null}}},
 {"width":757,"height":97,"data":{"name":"b2"},
  "layer":[
   {"mark":{"type":"line","strokeWidth":3.5,"clip":true},
    "encoding":{
     "x":{"field":"t","type":"quantitative","scale":{"domain":[2.43,55],"nice":false,"zero":false},"axis":{"values":[5,10,15,20,25,30,35,40,45,50],"labels":false,"title":null,"grid":true,"minExtent":0,"maxExtent":0}},
     "y":{"field":"e","type":"quantitative","scale":{"domain":[-2,2],"nice":false,"zero":false},"axis":{"title":"deg/s","values":[-2,0,2],"labelFlush":false,"labelOverlap":false,"titlePadding":11}},
     "color":{"field":"s","type":"nominal","scale":{"domain":[1,2,3,4,5],"range":["#0000ff","#008000","#ff0000","#00bfbf","#bf00bf"]},"legend":null}}},
   {"mark":{"type":"line","opacity":0,"clip":true},
    "encoding":{
     "x":{"field":"t","type":"quantitative"},
     "y":{"field":"e","type":"quantitative","axis":{"orient":"right","values":[1.55],"labelExpr":"'5'","title":null,"grid":false,"labelFlush":false,"labelPadding":3}}}}
  ],
  "resolve":{"axis":{"y":"independent"}}},
 {"width":757,"height":95,"data":{"name":"b3"},
  "layer":[
   {"mark":{"type":"line","strokeWidth":3.5,"clip":true},
    "encoding":{
     "x":{"field":"t","type":"quantitative","scale":{"domain":[2.43,55],"nice":false,"zero":false},"axis":{"values":[5,10,15,20,25,30,35,40,45,50],"labels":false,"title":null,"grid":true,"minExtent":0,"maxExtent":0}},
     "y":{"field":"e","type":"quantitative","scale":{"domain":[-4,4],"nice":false,"zero":false},"axis":{"title":"deg/s","values":[-4,-2,0,2,4],"labelFlush":false,"labelOverlap":false,"titlePadding":11}},
     "color":{"field":"s","type":"nominal","scale":{"domain":[1,2,3,4,5],"range":["#0000ff","#008000","#ff0000","#00bfbf","#bf00bf"]},"legend":null}}},
   {"mark":{"type":"line","opacity":0,"clip":true},
    "encoding":{
     "x":{"field":"t","type":"quantitative"},
     "y":{"field":"e","type":"quantitative","axis":{"orient":"right","values":[3.15],"labelExpr":"'5'","title":null,"grid":false,"labelFlush":false,"labelPadding":3}}}}
  ],
  "resolve":{"axis":{"y":"independent"}}},
 {"width":757,"height":96,"data":{"name":"b4"},
  "title":{"text":"(b)","orient":"bottom","frame":"group","offset":5,"fontSize":24,"fontWeight":"bold"},
  "layer":[
   {"mark":{"type":"line","strokeWidth":3.5,"clip":true},
    "encoding":{
     "x":{"field":"t","type":"quantitative","scale":{"domain":[2.43,55],"nice":false,"zero":false},"axis":{"values":[5,10,15,20,25,30,35,40,45,50,55],"title":"time (s)","grid":true,"labelFlush":false,"labelPadding":4,"titlePadding":2}},
     "y":{"field":"e","type":"quantitative","scale":{"domain":[-6.1,6],"nice":false,"zero":false},"axis":{"title":"deg/s","values":[-5,0,5],"labelFlush":false,"labelOverlap":false,"titlePadding":11}},
     "color":{"field":"s","type":"nominal","scale":{"domain":[1,2,3,4,5],"range":["#0000ff","#008000","#ff0000","#00bfbf","#bf00bf"]},"legend":null}}},
   {"mark":{"type":"line","opacity":0,"clip":true},
    "encoding":{
     "x":{"field":"t","type":"quantitative"},
     "y":{"field":"e","type":"quantitative","axis":{"orient":"right","values":[4.7],"labelExpr":"'5'","title":null,"grid":false,"labelFlush":false,"labelPadding":3}}}}
  ],
  "resolve":{"axis":{"y":"independent"}}}
 ],
 "spacing":0,"bounds":"flush"}
],
"config":{
 "view":{"stroke":"#9a9a9a","strokeWidth":1},
 "axis":{"labelFont":"DejaVu Sans","labelFontSize":14,"labelColor":"#333","titleFont":"DejaVu Sans","titleFontSize":16,"titleFontWeight":"normal","titleColor":"#222","gridColor":"#c8c8c8","gridDash":[2,2],"domain":false,"ticks":false,"labelPadding":3},
 "title":{"font":"DejaVu Sans","fontWeight":"normal","fontSize":18,"color":"#222"}
}
}
